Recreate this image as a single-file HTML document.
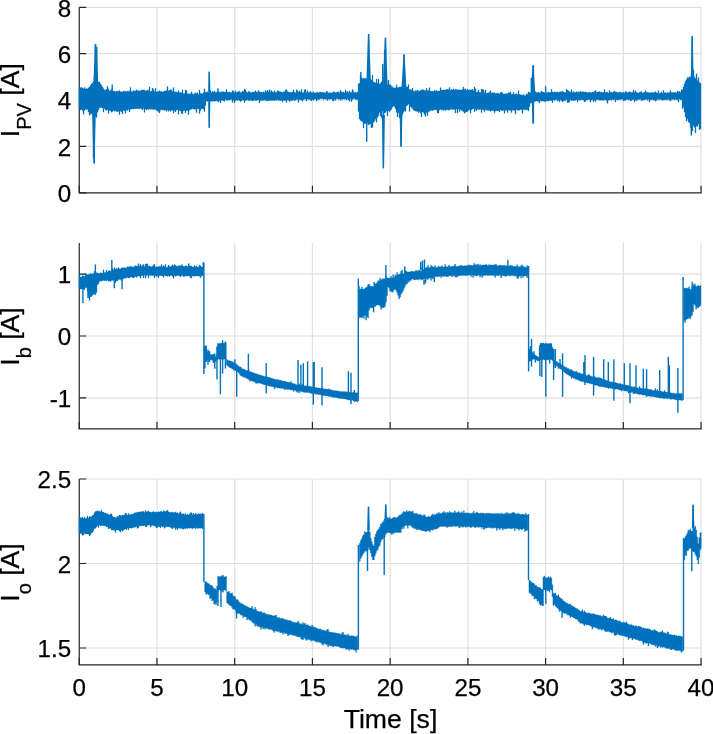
<!DOCTYPE html>
<html><head><meta charset="utf-8"><style>
html,body{margin:0;padding:0;background:#fff;width:713px;height:734px;overflow:hidden}
svg{display:block}
text{filter:opacity(99.9%)}
.t{font-family:"Liberation Sans",sans-serif;font-size:24.2px;fill:#000;stroke:#000;stroke-width:0.25px}
.l{font-family:"Liberation Sans",sans-serif;font-size:26.6px;fill:#000;stroke:#000;stroke-width:0.25px}
</style></head><body>
<svg width="713" height="734" viewBox="0 0 713 734">
<rect width="713" height="734" fill="#fff"/>
<path d="M156.97 7.28V192.80M234.70 7.28V192.80M312.43 7.28V192.80M390.15 7.28V192.80M467.88 7.28V192.80M545.60 7.28V192.80M623.33 7.28V192.80M701.05 7.28V192.80M79.25 146.42H701.65M79.25 100.04H701.65M79.25 53.66H701.65M79.25 7.28H701.65" stroke="#dfdfdf" stroke-width="1.2" fill="none"/>
<path d="M79.25 7.28V193.40M78.65 192.80H701.65" stroke="#262626" stroke-width="1.2" fill="none"/>
<path d="M79.25 192.80v-7M156.97 192.80v-7M234.70 192.80v-7M312.43 192.80v-7M390.15 192.80v-7M467.88 192.80v-7M545.60 192.80v-7M623.33 192.80v-7M701.05 192.80v-7M79.25 192.80h7M79.25 146.42h7M79.25 100.04h7M79.25 53.66h7M79.25 7.28h7" stroke="#262626" stroke-width="1.2" fill="none"/>
<path d="M79.0 87.3 80.0 87.3 80.0 87.6 81.0 87.6 81.0 87.6 82.0 87.6 82.0 88.0 83.0 88.0 83.0 88.7 84.0 88.7 84.0 87.6 85.0 87.6 85.0 88.7 86.0 88.7 86.0 88.7 87.0 88.7 87.0 88.8 88.0 88.8 88.0 87.7 89.0 87.7 89.0 86.9 90.0 86.9 90.0 85.5 91.0 85.5 91.0 84.0 92.0 84.0 92.0 83.3 93.0 83.3 93.0 81.4 94.0 81.4 94.0 77.6 95.0 77.6 95.0 78.4 96.0 78.4 96.0 79.5 97.0 79.5 97.0 81.2 98.0 81.2 98.0 82.1 99.0 82.1 99.0 82.1 100.0 82.1 100.0 83.8 101.0 83.8 101.0 85.2 102.0 85.2 102.0 86.9 103.0 86.9 103.0 88.6 104.0 88.6 104.0 89.9 105.0 89.9 105.0 89.7 106.0 89.7 106.0 89.3 107.0 89.3 107.0 86.2 108.0 86.2 108.0 88.9 109.0 88.9 109.0 91.1 110.0 91.1 110.0 90.6 111.0 90.6 111.0 89.5 112.0 89.5 112.0 91.7 113.0 91.7 113.0 91.1 114.0 91.1 114.0 91.2 115.0 91.2 115.0 91.8 116.0 91.8 116.0 91.1 117.0 91.1 117.0 91.2 118.0 91.2 118.0 91.3 119.0 91.3 119.0 90.6 120.0 90.6 120.0 91.8 121.0 91.8 121.0 91.7 122.0 91.7 122.0 91.7 123.0 91.7 123.0 91.2 124.0 91.2 124.0 91.3 125.0 91.3 125.0 91.1 126.0 91.1 126.0 91.9 127.0 91.9 127.0 91.0 128.0 91.0 128.0 91.4 129.0 91.4 129.0 90.8 130.0 90.8 130.0 87.4 131.0 87.4 131.0 91.4 132.0 91.4 132.0 91.8 133.0 91.8 133.0 90.5 134.0 90.5 134.0 90.9 135.0 90.9 135.0 90.9 136.0 90.9 136.0 89.7 137.0 89.7 137.0 90.8 138.0 90.8 138.0 90.6 139.0 90.6 139.0 90.7 140.0 90.7 140.0 90.9 141.0 90.9 141.0 90.1 142.0 90.1 142.0 89.9 143.0 89.9 143.0 89.9 144.0 89.9 144.0 90.1 145.0 90.1 145.0 91.1 146.0 91.1 146.0 90.7 147.0 90.7 147.0 89.9 148.0 89.9 148.0 90.5 149.0 90.5 149.0 87.0 150.0 87.0 150.0 91.4 151.0 91.4 151.0 91.1 152.0 91.1 152.0 88.1 153.0 88.1 153.0 89.4 154.0 89.4 154.0 91.6 155.0 91.6 155.0 88.4 156.0 88.4 156.0 92.0 157.0 92.0 157.0 91.5 158.0 91.5 158.0 91.8 159.0 91.8 159.0 90.7 160.0 90.7 160.0 91.8 161.0 91.8 161.0 91.2 162.0 91.2 162.0 91.8 163.0 91.8 163.0 91.8 164.0 91.8 164.0 91.0 165.0 91.0 165.0 90.9 166.0 90.9 166.0 90.6 167.0 90.6 167.0 86.5 168.0 86.5 168.0 90.8 169.0 90.8 169.0 90.3 170.0 90.3 170.0 89.8 171.0 89.8 171.0 89.9 172.0 89.9 172.0 91.3 173.0 91.3 173.0 87.6 174.0 87.6 174.0 91.8 175.0 91.8 175.0 91.9 176.0 91.9 176.0 92.0 177.0 92.0 177.0 92.2 178.0 92.2 178.0 90.8 179.0 90.8 179.0 92.5 180.0 92.5 180.0 92.6 181.0 92.6 181.0 92.8 182.0 92.8 182.0 89.9 183.0 89.9 183.0 93.6 184.0 93.6 184.0 93.4 185.0 93.4 185.0 90.1 186.0 90.1 186.0 90.5 187.0 90.5 187.0 93.7 188.0 93.7 188.0 93.6 189.0 93.6 189.0 94.2 190.0 94.2 190.0 93.7 191.0 93.7 191.0 91.9 192.0 91.9 192.0 93.7 193.0 93.7 193.0 94.4 194.0 94.4 194.0 93.6 195.0 93.6 195.0 92.8 196.0 92.8 196.0 93.4 197.0 93.4 197.0 92.8 198.0 92.8 198.0 94.2 199.0 94.2 199.0 90.0 200.0 90.0 200.0 93.2 201.0 93.2 201.0 93.8 202.0 93.8 202.0 93.7 203.0 93.7 203.0 92.6 204.0 92.6 204.0 88.8 205.0 88.8 205.0 92.2 206.0 92.2 206.0 92.2 207.0 92.2 207.0 91.8 208.0 91.8 208.0 92.4 209.0 92.4 209.0 92.0 210.0 92.0 210.0 90.6 211.0 90.6 211.0 92.6 212.0 92.6 212.0 91.6 213.0 91.6 213.0 92.0 214.0 92.0 214.0 91.0 215.0 91.0 215.0 92.6 216.0 92.6 216.0 92.3 217.0 92.3 217.0 91.5 218.0 91.5 218.0 91.9 219.0 91.9 219.0 92.1 220.0 92.1 220.0 92.2 221.0 92.2 221.0 91.7 222.0 91.7 222.0 91.7 223.0 91.7 223.0 91.7 224.0 91.7 224.0 92.0 225.0 92.0 225.0 92.1 226.0 92.1 226.0 89.5 227.0 89.5 227.0 92.0 228.0 92.0 228.0 92.2 229.0 92.2 229.0 92.0 230.0 92.0 230.0 92.5 231.0 92.5 231.0 92.4 232.0 92.4 232.0 90.7 233.0 90.7 233.0 91.3 234.0 91.3 234.0 92.6 235.0 92.6 235.0 90.8 236.0 90.8 236.0 92.5 237.0 92.5 237.0 91.9 238.0 91.9 238.0 91.6 239.0 91.6 239.0 91.3 240.0 91.3 240.0 92.6 241.0 92.6 241.0 92.4 242.0 92.4 242.0 91.1 243.0 91.1 243.0 91.6 244.0 91.6 244.0 89.1 245.0 89.1 245.0 89.9 246.0 89.9 246.0 91.9 247.0 91.9 247.0 92.4 248.0 92.4 248.0 91.6 249.0 91.6 249.0 91.5 250.0 91.5 250.0 92.5 251.0 92.5 251.0 92.4 252.0 92.4 252.0 91.9 253.0 91.9 253.0 92.0 254.0 92.0 254.0 91.9 255.0 91.9 255.0 90.7 256.0 90.7 256.0 92.0 257.0 92.0 257.0 92.3 258.0 92.3 258.0 90.4 259.0 90.4 259.0 91.7 260.0 91.7 260.0 92.2 261.0 92.2 261.0 92.1 262.0 92.1 262.0 92.6 263.0 92.6 263.0 91.7 264.0 91.7 264.0 92.6 265.0 92.6 265.0 90.5 266.0 90.5 266.0 91.7 267.0 91.7 267.0 90.3 268.0 90.3 268.0 91.8 269.0 91.8 269.0 89.7 270.0 89.7 270.0 91.7 271.0 91.7 271.0 90.5 272.0 90.5 272.0 91.9 273.0 91.9 273.0 92.2 274.0 92.2 274.0 90.7 275.0 90.7 275.0 92.5 276.0 92.5 276.0 92.2 277.0 92.2 277.0 90.7 278.0 90.7 278.0 90.9 279.0 90.9 279.0 91.7 280.0 91.7 280.0 91.8 281.0 91.8 281.0 92.1 282.0 92.1 282.0 92.5 283.0 92.5 283.0 91.8 284.0 91.8 284.0 91.8 285.0 91.8 285.0 90.1 286.0 90.1 286.0 91.6 287.0 91.6 287.0 91.7 288.0 91.7 288.0 91.9 289.0 91.9 289.0 92.3 290.0 92.3 290.0 92.2 291.0 92.2 291.0 92.2 292.0 92.2 292.0 92.1 293.0 92.1 293.0 89.9 294.0 89.9 294.0 92.3 295.0 92.3 295.0 92.7 296.0 92.7 296.0 89.8 297.0 89.8 297.0 90.7 298.0 90.7 298.0 91.9 299.0 91.9 299.0 90.9 300.0 90.9 300.0 92.1 301.0 92.1 301.0 89.4 302.0 89.4 302.0 92.8 303.0 92.8 303.0 92.6 304.0 92.6 304.0 89.8 305.0 89.8 305.0 89.6 306.0 89.6 306.0 92.4 307.0 92.4 307.0 90.5 308.0 90.5 308.0 92.6 309.0 92.6 309.0 92.2 310.0 92.2 310.0 91.4 311.0 91.4 311.0 92.5 312.0 92.5 312.0 92.7 313.0 92.7 313.0 91.8 314.0 91.8 314.0 93.1 315.0 93.1 315.0 92.8 316.0 92.8 316.0 92.6 317.0 92.6 317.0 92.2 318.0 92.2 318.0 93.0 319.0 93.0 319.0 92.3 320.0 92.3 320.0 92.1 321.0 92.1 321.0 92.2 322.0 92.2 322.0 92.2 323.0 92.2 323.0 92.5 324.0 92.5 324.0 92.5 325.0 92.5 325.0 92.8 326.0 92.8 326.0 91.3 327.0 91.3 327.0 91.7 328.0 91.7 328.0 93.1 329.0 93.1 329.0 92.4 330.0 92.4 330.0 92.8 331.0 92.8 331.0 92.9 332.0 92.9 332.0 92.8 333.0 92.8 333.0 91.8 334.0 91.8 334.0 92.1 335.0 92.1 335.0 92.7 336.0 92.7 336.0 92.4 337.0 92.4 337.0 92.1 338.0 92.1 338.0 91.8 339.0 91.8 339.0 92.8 340.0 92.8 340.0 90.4 341.0 90.4 341.0 91.8 342.0 91.8 342.0 92.4 343.0 92.4 343.0 91.9 344.0 91.9 344.0 92.8 345.0 92.8 345.0 90.0 346.0 90.0 346.0 92.2 347.0 92.2 347.0 91.3 348.0 91.3 348.0 92.8 349.0 92.8 349.0 91.1 350.0 91.1 350.0 92.6 351.0 92.6 351.0 92.3 352.0 92.3 352.0 89.5 353.0 89.5 353.0 91.2 354.0 91.2 354.0 92.7 355.0 92.7 355.0 92.2 356.0 92.2 356.0 92.6 357.0 92.6 357.0 92.3 358.0 92.3 358.0 83.9 359.0 83.9 359.0 83.1 360.0 83.1 360.0 74.8 361.0 74.8 361.0 77.5 362.0 77.5 362.0 78.8 363.0 78.8 363.0 78.1 364.0 78.1 364.0 78.5 365.0 78.5 365.0 78.3 366.0 78.3 366.0 78.7 367.0 78.7 367.0 79.5 368.0 79.5 368.0 80.1 369.0 80.1 369.0 75.3 370.0 75.3 370.0 78.5 371.0 78.5 371.0 81.2 372.0 81.2 372.0 75.1 373.0 75.1 373.0 81.9 374.0 81.9 374.0 82.3 375.0 82.3 375.0 83.1 376.0 83.1 376.0 79.1 377.0 79.1 377.0 83.0 378.0 83.0 378.0 79.1 379.0 79.1 379.0 84.0 380.0 84.0 380.0 83.2 381.0 83.2 381.0 81.7 382.0 81.7 382.0 84.5 383.0 84.5 383.0 84.8 384.0 84.8 384.0 82.8 385.0 82.8 385.0 84.7 386.0 84.7 386.0 81.0 387.0 81.0 387.0 85.0 388.0 85.0 388.0 80.1 389.0 80.1 389.0 84.9 390.0 84.9 390.0 84.5 391.0 84.5 391.0 86.3 392.0 86.3 392.0 86.8 393.0 86.8 393.0 88.0 394.0 88.0 394.0 87.7 395.0 87.7 395.0 87.9 396.0 87.9 396.0 84.9 397.0 84.9 397.0 87.6 398.0 87.6 398.0 87.4 399.0 87.4 399.0 87.1 400.0 87.1 400.0 86.9 401.0 86.9 401.0 86.8 402.0 86.8 402.0 81.4 403.0 81.4 403.0 83.5 404.0 83.5 404.0 84.5 405.0 84.5 405.0 87.1 406.0 87.1 406.0 86.8 407.0 86.8 407.0 86.9 408.0 86.9 408.0 84.6 409.0 84.6 409.0 89.5 410.0 89.5 410.0 89.6 411.0 89.6 411.0 90.1 412.0 90.1 412.0 88.1 413.0 88.1 413.0 90.9 414.0 90.9 414.0 91.8 415.0 91.8 415.0 90.6 416.0 90.6 416.0 91.0 417.0 91.0 417.0 90.1 418.0 90.1 418.0 91.0 419.0 91.0 419.0 90.9 420.0 90.9 420.0 90.6 421.0 90.6 421.0 90.0 422.0 90.0 422.0 89.7 423.0 89.7 423.0 89.7 424.0 89.7 424.0 90.5 425.0 90.5 425.0 90.6 426.0 90.6 426.0 88.3 427.0 88.3 427.0 90.2 428.0 90.2 428.0 90.7 429.0 90.7 429.0 87.7 430.0 87.7 430.0 91.1 431.0 91.1 431.0 91.4 432.0 91.4 432.0 91.0 433.0 91.0 433.0 91.7 434.0 91.7 434.0 90.2 435.0 90.2 435.0 91.0 436.0 91.0 436.0 90.5 437.0 90.5 437.0 91.0 438.0 91.0 438.0 91.1 439.0 91.1 439.0 91.0 440.0 91.0 440.0 87.7 441.0 87.7 441.0 90.1 442.0 90.1 442.0 90.0 443.0 90.0 443.0 90.1 444.0 90.1 444.0 89.8 445.0 89.8 445.0 89.9 446.0 89.9 446.0 89.4 447.0 89.4 447.0 89.3 448.0 89.3 448.0 89.6 449.0 89.6 449.0 87.6 450.0 87.6 450.0 90.2 451.0 90.2 451.0 89.5 452.0 89.5 452.0 90.0 453.0 90.0 453.0 89.1 454.0 89.1 454.0 90.1 455.0 90.1 455.0 89.3 456.0 89.3 456.0 89.5 457.0 89.5 457.0 89.9 458.0 89.9 458.0 89.4 459.0 89.4 459.0 90.1 460.0 90.1 460.0 90.0 461.0 90.0 461.0 90.1 462.0 90.1 462.0 89.3 463.0 89.3 463.0 87.0 464.0 87.0 464.0 89.6 465.0 89.6 465.0 88.8 466.0 88.8 466.0 90.3 467.0 90.3 467.0 89.3 468.0 89.3 468.0 90.1 469.0 90.1 469.0 89.8 470.0 89.8 470.0 90.1 471.0 90.1 471.0 89.7 472.0 89.7 472.0 89.2 473.0 89.2 473.0 90.7 474.0 90.7 474.0 87.1 475.0 87.1 475.0 88.8 476.0 88.8 476.0 92.0 477.0 92.0 477.0 92.0 478.0 92.0 478.0 89.9 479.0 89.9 479.0 92.3 480.0 92.3 480.0 92.5 481.0 92.5 481.0 89.3 482.0 89.3 482.0 89.2 483.0 89.2 483.0 89.7 484.0 89.7 484.0 92.4 485.0 92.4 485.0 90.0 486.0 90.0 486.0 93.2 487.0 93.2 487.0 93.1 488.0 93.1 488.0 92.9 489.0 92.9 489.0 91.9 490.0 91.9 490.0 90.7 491.0 90.7 491.0 93.2 492.0 93.2 492.0 92.7 493.0 92.7 493.0 92.7 494.0 92.7 494.0 92.8 495.0 92.8 495.0 93.5 496.0 93.5 496.0 93.2 497.0 93.2 497.0 93.3 498.0 93.3 498.0 93.2 499.0 93.2 499.0 93.9 500.0 93.9 500.0 92.6 501.0 92.6 501.0 92.0 502.0 92.0 502.0 93.1 503.0 93.1 503.0 94.1 504.0 94.1 504.0 94.1 505.0 94.1 505.0 93.6 506.0 93.6 506.0 93.6 507.0 93.6 507.0 93.7 508.0 93.7 508.0 92.8 509.0 92.8 509.0 92.7 510.0 92.7 510.0 91.9 511.0 91.9 511.0 94.2 512.0 94.2 512.0 94.1 513.0 94.1 513.0 92.2 514.0 92.2 514.0 94.4 515.0 94.4 515.0 94.1 516.0 94.1 516.0 93.8 517.0 93.8 517.0 94.4 518.0 94.4 518.0 90.7 519.0 90.7 519.0 94.3 520.0 94.3 520.0 94.8 521.0 94.8 521.0 95.0 522.0 95.0 522.0 95.2 523.0 95.2 523.0 94.4 524.0 94.4 524.0 95.5 525.0 95.5 525.0 95.5 526.0 95.5 526.0 93.8 527.0 93.8 527.0 94.3 528.0 94.3 528.0 91.9 529.0 91.9 529.0 92.5 530.0 92.5 530.0 92.7 531.0 92.7 531.0 91.4 532.0 91.4 532.0 92.8 533.0 92.8 533.0 92.4 534.0 92.4 534.0 92.3 535.0 92.3 535.0 91.7 536.0 91.7 536.0 92.5 537.0 92.5 537.0 92.4 538.0 92.4 538.0 92.2 539.0 92.2 539.0 92.8 540.0 92.8 540.0 92.5 541.0 92.5 541.0 91.0 542.0 91.0 542.0 92.0 543.0 92.0 543.0 92.1 544.0 92.1 544.0 92.6 545.0 92.6 545.0 92.6 546.0 92.6 546.0 92.3 547.0 92.3 547.0 92.7 548.0 92.7 548.0 92.0 549.0 92.0 549.0 92.5 550.0 92.5 550.0 92.4 551.0 92.4 551.0 89.4 552.0 89.4 552.0 92.0 553.0 92.0 553.0 92.2 554.0 92.2 554.0 91.9 555.0 91.9 555.0 91.9 556.0 91.9 556.0 92.2 557.0 92.2 557.0 91.9 558.0 91.9 558.0 92.5 559.0 92.5 559.0 92.0 560.0 92.0 560.0 91.7 561.0 91.7 561.0 91.7 562.0 91.7 562.0 91.3 563.0 91.3 563.0 92.0 564.0 92.0 564.0 92.5 565.0 92.5 565.0 92.5 566.0 92.5 566.0 89.4 567.0 89.4 567.0 90.1 568.0 90.1 568.0 90.8 569.0 90.8 569.0 91.8 570.0 91.8 570.0 92.1 571.0 92.1 571.0 89.8 572.0 89.8 572.0 92.4 573.0 92.4 573.0 91.5 574.0 91.5 574.0 92.4 575.0 92.4 575.0 92.5 576.0 92.5 576.0 91.8 577.0 91.8 577.0 92.2 578.0 92.2 578.0 91.7 579.0 91.7 579.0 92.2 580.0 92.2 580.0 91.3 581.0 91.3 581.0 91.9 582.0 91.9 582.0 92.0 583.0 92.0 583.0 91.8 584.0 91.8 584.0 92.0 585.0 92.0 585.0 92.0 586.0 92.0 586.0 92.2 587.0 92.2 587.0 92.7 588.0 92.7 588.0 92.5 589.0 92.5 589.0 91.9 590.0 91.9 590.0 92.7 591.0 92.7 591.0 92.6 592.0 92.6 592.0 92.1 593.0 92.1 593.0 92.2 594.0 92.2 594.0 91.3 595.0 91.3 595.0 90.4 596.0 90.4 596.0 92.2 597.0 92.2 597.0 92.0 598.0 92.0 598.0 91.9 599.0 91.9 599.0 91.6 600.0 91.6 600.0 92.3 601.0 92.3 601.0 91.9 602.0 91.9 602.0 92.6 603.0 92.6 603.0 92.5 604.0 92.5 604.0 89.6 605.0 89.6 605.0 92.5 606.0 92.5 606.0 92.1 607.0 92.1 607.0 92.2 608.0 92.2 608.0 92.9 609.0 92.9 609.0 90.5 610.0 90.5 610.0 92.3 611.0 92.3 611.0 92.2 612.0 92.2 612.0 92.8 613.0 92.8 613.0 91.7 614.0 91.7 614.0 91.0 615.0 91.0 615.0 92.1 616.0 92.1 616.0 92.0 617.0 92.0 617.0 92.4 618.0 92.4 618.0 92.4 619.0 92.4 619.0 92.1 620.0 92.1 620.0 92.2 621.0 92.2 621.0 92.5 622.0 92.5 622.0 93.0 623.0 93.0 623.0 92.1 624.0 92.1 624.0 93.0 625.0 93.0 625.0 91.2 626.0 91.2 626.0 92.1 627.0 92.1 627.0 92.5 628.0 92.5 628.0 92.2 629.0 92.2 629.0 91.8 630.0 91.8 630.0 92.3 631.0 92.3 631.0 92.2 632.0 92.2 632.0 92.2 633.0 92.2 633.0 90.0 634.0 90.0 634.0 92.2 635.0 92.2 635.0 90.7 636.0 90.7 636.0 92.5 637.0 92.5 637.0 92.8 638.0 92.8 638.0 93.0 639.0 93.0 639.0 92.3 640.0 92.3 640.0 91.9 641.0 91.9 641.0 91.6 642.0 91.6 642.0 92.9 643.0 92.9 643.0 92.4 644.0 92.4 644.0 92.3 645.0 92.3 645.0 90.6 646.0 90.6 646.0 92.3 647.0 92.3 647.0 92.2 648.0 92.2 648.0 92.6 649.0 92.6 649.0 92.9 650.0 92.9 650.0 92.6 651.0 92.6 651.0 92.4 652.0 92.4 652.0 92.6 653.0 92.6 653.0 92.6 654.0 92.6 654.0 92.2 655.0 92.2 655.0 91.7 656.0 91.7 656.0 92.8 657.0 92.8 657.0 93.0 658.0 93.0 658.0 90.8 659.0 90.8 659.0 93.2 660.0 93.2 660.0 93.0 661.0 93.0 661.0 92.0 662.0 92.0 662.0 93.3 663.0 93.3 663.0 90.3 664.0 90.3 664.0 92.7 665.0 92.7 665.0 92.6 666.0 92.6 666.0 93.2 667.0 93.2 667.0 92.4 668.0 92.4 668.0 92.7 669.0 92.7 669.0 92.4 670.0 92.4 670.0 90.6 671.0 90.6 671.0 92.5 672.0 92.5 672.0 92.5 673.0 92.5 673.0 92.4 674.0 92.4 674.0 92.5 675.0 92.5 675.0 92.2 676.0 92.2 676.0 93.0 677.0 93.0 677.0 90.9 678.0 90.9 678.0 91.8 679.0 91.8 679.0 91.4 680.0 91.4 680.0 92.3 681.0 92.3 681.0 89.4 682.0 89.4 682.0 90.1 683.0 90.1 683.0 86.8 684.0 86.8 684.0 83.8 685.0 83.8 685.0 81.3 686.0 81.3 686.0 79.5 687.0 79.5 687.0 77.6 688.0 77.6 688.0 77.7 689.0 77.7 689.0 76.8 690.0 76.8 690.0 77.1 691.0 77.1 691.0 74.7 692.0 74.7 692.0 71.8 693.0 71.8 693.0 69.8 694.0 69.8 694.0 76.7 695.0 76.7 695.0 78.6 696.0 78.6 696.0 73.8 697.0 73.8 697.0 80.6 698.0 80.6 698.0 77.5 699.0 77.5 699.0 82.6 700.0 82.6 700.0 83.3 701.0 83.3 701.0 83.9 701.0 83.9 701.0 122.2 701.0 122.2 701.0 128.7 700.0 128.7 700.0 129.8 699.0 129.8 699.0 124.1 698.0 124.1 698.0 126.6 697.0 126.6 697.0 125.9 696.0 125.9 696.0 132.9 695.0 132.9 695.0 127.2 694.0 127.2 694.0 125.8 693.0 125.8 693.0 131.1 692.0 131.1 692.0 124.2 691.0 124.2 691.0 127.6 690.0 127.6 690.0 122.7 689.0 122.7 689.0 122.0 688.0 122.0 688.0 119.0 687.0 119.0 687.0 121.0 686.0 121.0 686.0 117.1 685.0 117.1 685.0 112.1 684.0 112.1 684.0 107.3 683.0 107.3 683.0 108.6 682.0 108.6 682.0 99.5 681.0 99.5 681.0 100.0 680.0 100.0 680.0 99.1 679.0 99.1 679.0 102.0 678.0 102.0 678.0 99.7 677.0 99.7 677.0 99.7 676.0 99.7 676.0 99.2 675.0 99.2 675.0 99.9 674.0 99.9 674.0 99.3 673.0 99.3 673.0 99.4 672.0 99.4 672.0 99.5 671.0 99.5 671.0 100.9 670.0 100.9 670.0 100.2 669.0 100.2 669.0 99.3 668.0 99.3 668.0 99.9 667.0 99.9 667.0 99.8 666.0 99.8 666.0 99.8 665.0 99.8 665.0 99.9 664.0 99.9 664.0 100.0 663.0 100.0 663.0 100.2 662.0 100.2 662.0 99.7 661.0 99.7 661.0 99.6 660.0 99.6 660.0 99.4 659.0 99.4 659.0 99.7 658.0 99.7 658.0 99.2 657.0 99.2 657.0 100.5 656.0 100.5 656.0 101.2 655.0 101.2 655.0 100.1 654.0 100.1 654.0 100.1 653.0 100.1 653.0 99.6 652.0 99.6 652.0 99.7 651.0 99.7 651.0 100.0 650.0 100.0 650.0 101.9 649.0 101.9 649.0 99.3 648.0 99.3 648.0 100.3 647.0 100.3 647.0 99.2 646.0 99.2 646.0 99.5 645.0 99.5 645.0 100.0 644.0 100.0 644.0 99.9 643.0 99.9 643.0 100.0 642.0 100.0 642.0 100.7 641.0 100.7 641.0 99.3 640.0 99.3 640.0 99.4 639.0 99.4 639.0 99.5 638.0 99.5 638.0 99.7 637.0 99.7 637.0 100.8 636.0 100.8 636.0 99.9 635.0 99.9 635.0 101.9 634.0 101.9 634.0 99.4 633.0 99.4 633.0 99.7 632.0 99.7 632.0 100.6 631.0 100.6 631.0 101.0 630.0 101.0 630.0 99.3 629.0 99.3 629.0 100.0 628.0 100.0 628.0 99.6 627.0 99.6 627.0 99.5 626.0 99.5 626.0 100.1 625.0 100.1 625.0 100.5 624.0 100.5 624.0 100.9 623.0 100.9 623.0 99.2 622.0 99.2 622.0 99.2 621.0 99.2 621.0 99.8 620.0 99.8 620.0 99.3 619.0 99.3 619.0 99.9 618.0 99.9 618.0 99.9 617.0 99.9 617.0 99.4 616.0 99.4 616.0 102.0 615.0 102.0 615.0 99.5 614.0 99.5 614.0 99.7 613.0 99.7 613.0 99.5 612.0 99.5 612.0 100.2 611.0 100.2 611.0 99.7 610.0 99.7 610.0 99.9 609.0 99.9 609.0 100.1 608.0 100.1 608.0 100.1 607.0 100.1 607.0 100.3 606.0 100.3 606.0 100.0 605.0 100.0 605.0 99.8 604.0 99.8 604.0 100.2 603.0 100.2 603.0 100.2 602.0 100.2 602.0 100.1 601.0 100.1 601.0 100.2 600.0 100.2 600.0 100.3 599.0 100.3 599.0 99.5 598.0 99.5 598.0 99.7 597.0 99.7 597.0 99.5 596.0 99.5 596.0 101.4 595.0 101.4 595.0 100.1 594.0 100.1 594.0 101.9 593.0 101.9 593.0 99.8 592.0 99.8 592.0 100.1 591.0 100.1 591.0 102.0 590.0 102.0 590.0 99.7 589.0 99.7 589.0 99.6 588.0 99.6 588.0 100.0 587.0 100.0 587.0 100.0 586.0 100.0 586.0 101.2 585.0 101.2 585.0 101.9 584.0 101.9 584.0 99.9 583.0 99.9 583.0 100.0 582.0 100.0 582.0 99.6 581.0 99.6 581.0 100.1 580.0 100.1 580.0 100.3 579.0 100.3 579.0 99.8 578.0 99.8 578.0 102.1 577.0 102.1 577.0 99.8 576.0 99.8 576.0 100.3 575.0 100.3 575.0 100.2 574.0 100.2 574.0 100.6 573.0 100.6 573.0 100.4 572.0 100.4 572.0 100.4 571.0 100.4 571.0 99.8 570.0 99.8 570.0 102.0 569.0 102.0 569.0 102.5 568.0 102.5 568.0 102.5 567.0 102.5 567.0 99.6 566.0 99.6 566.0 100.4 565.0 100.4 565.0 100.4 564.0 100.4 564.0 101.0 563.0 101.0 563.0 102.0 562.0 102.0 562.0 100.4 561.0 100.4 561.0 100.0 560.0 100.0 560.0 101.7 559.0 101.7 559.0 100.6 558.0 100.6 558.0 100.9 557.0 100.9 557.0 99.6 556.0 99.6 556.0 99.7 555.0 99.7 555.0 100.6 554.0 100.6 554.0 99.7 553.0 99.7 553.0 102.7 552.0 102.7 552.0 100.5 551.0 100.5 551.0 100.5 550.0 100.5 550.0 100.6 549.0 100.6 549.0 100.9 548.0 100.9 548.0 100.9 547.0 100.9 547.0 100.8 546.0 100.8 546.0 101.7 545.0 101.7 545.0 101.6 544.0 101.6 544.0 101.2 543.0 101.2 543.0 101.1 542.0 101.1 542.0 101.2 541.0 101.2 541.0 100.6 540.0 100.6 540.0 103.0 539.0 103.0 539.0 101.7 538.0 101.7 538.0 101.1 537.0 101.1 537.0 101.0 536.0 101.0 536.0 101.3 535.0 101.3 535.0 101.5 534.0 101.5 534.0 101.8 533.0 101.8 533.0 101.8 532.0 101.8 532.0 102.8 531.0 102.8 531.0 103.3 530.0 103.3 530.0 106.8 529.0 106.8 529.0 111.1 528.0 111.1 528.0 109.8 527.0 109.8 527.0 109.7 526.0 109.7 526.0 109.8 525.0 109.8 525.0 109.8 524.0 109.8 524.0 109.6 523.0 109.6 523.0 113.2 522.0 113.2 522.0 109.7 521.0 109.7 521.0 109.6 520.0 109.6 520.0 110.1 519.0 110.1 519.0 110.3 518.0 110.3 518.0 110.3 517.0 110.3 517.0 109.6 516.0 109.6 516.0 114.1 515.0 114.1 515.0 110.4 514.0 110.4 514.0 110.2 513.0 110.2 513.0 109.9 512.0 109.9 512.0 112.6 511.0 112.6 511.0 110.3 510.0 110.3 510.0 110.5 509.0 110.5 509.0 110.1 508.0 110.1 508.0 112.5 507.0 112.5 507.0 110.2 506.0 110.2 506.0 110.2 505.0 110.2 505.0 113.3 504.0 113.3 504.0 110.2 503.0 110.2 503.0 110.8 502.0 110.8 502.0 110.4 501.0 110.4 501.0 110.1 500.0 110.1 500.0 112.0 499.0 112.0 499.0 110.7 498.0 110.7 498.0 111.0 497.0 111.0 497.0 110.8 496.0 110.8 496.0 111.1 495.0 111.1 495.0 112.7 494.0 112.7 494.0 110.7 493.0 110.7 493.0 110.7 492.0 110.7 492.0 110.4 491.0 110.4 491.0 111.2 490.0 111.2 490.0 110.6 489.0 110.6 489.0 110.2 488.0 110.2 488.0 110.5 487.0 110.5 487.0 110.1 486.0 110.1 486.0 109.8 485.0 109.8 485.0 111.7 484.0 111.7 484.0 109.9 483.0 109.9 483.0 109.5 482.0 109.5 482.0 112.6 481.0 112.6 481.0 109.2 480.0 109.2 480.0 109.5 479.0 109.5 479.0 109.5 478.0 109.5 478.0 109.3 477.0 109.3 477.0 111.0 476.0 111.0 476.0 109.2 475.0 109.2 475.0 111.8 474.0 111.8 474.0 108.4 473.0 108.4 473.0 109.0 472.0 109.0 472.0 110.0 471.0 110.0 471.0 113.2 470.0 113.2 470.0 109.6 469.0 109.6 469.0 110.5 468.0 110.5 468.0 111.4 467.0 111.4 467.0 112.0 466.0 112.0 466.0 112.3 465.0 112.3 465.0 113.2 464.0 113.2 464.0 111.8 463.0 111.8 463.0 110.8 462.0 110.8 462.0 110.5 461.0 110.5 461.0 109.2 460.0 109.2 460.0 111.5 459.0 111.5 459.0 109.1 458.0 109.1 458.0 113.1 457.0 113.1 457.0 108.9 456.0 108.9 456.0 113.0 455.0 113.0 455.0 109.2 454.0 109.2 454.0 109.6 453.0 109.6 453.0 109.4 452.0 109.4 452.0 109.2 451.0 109.2 451.0 109.2 450.0 109.2 450.0 109.9 449.0 109.9 449.0 110.2 448.0 110.2 448.0 109.8 447.0 109.8 447.0 109.7 446.0 109.7 446.0 110.6 445.0 110.6 445.0 109.8 444.0 109.8 444.0 110.3 443.0 110.3 443.0 110.1 442.0 110.1 442.0 109.8 441.0 109.8 441.0 109.6 440.0 109.6 440.0 110.1 439.0 110.1 439.0 113.0 438.0 113.0 438.0 112.9 437.0 112.9 437.0 110.1 436.0 110.1 436.0 109.7 435.0 109.7 435.0 109.8 434.0 109.8 434.0 110.1 433.0 110.1 433.0 110.7 432.0 110.7 432.0 110.1 431.0 110.1 431.0 110.7 430.0 110.7 430.0 111.0 429.0 111.0 429.0 111.9 428.0 111.9 428.0 115.5 427.0 115.5 427.0 112.6 426.0 112.6 426.0 116.5 425.0 116.5 425.0 114.6 424.0 114.6 424.0 112.4 423.0 112.4 423.0 112.1 422.0 112.1 422.0 116.9 421.0 116.9 421.0 113.0 420.0 113.0 420.0 111.4 419.0 111.4 419.0 112.5 418.0 112.5 418.0 111.4 417.0 111.4 417.0 111.3 416.0 111.3 416.0 110.9 415.0 110.9 415.0 110.6 414.0 110.6 414.0 110.1 413.0 110.1 413.0 108.5 412.0 108.5 412.0 107.5 411.0 107.5 411.0 106.4 410.0 106.4 410.0 111.6 409.0 111.6 409.0 104.0 408.0 104.0 408.0 105.3 407.0 105.3 407.0 106.0 406.0 106.0 406.0 111.3 405.0 111.3 405.0 110.8 404.0 110.8 404.0 112.4 403.0 112.4 403.0 114.6 402.0 114.6 402.0 114.9 401.0 114.9 401.0 114.8 400.0 114.8 400.0 118.0 399.0 118.0 399.0 112.7 398.0 112.7 398.0 116.8 397.0 116.8 397.0 112.3 396.0 112.3 396.0 108.7 395.0 108.7 395.0 106.7 394.0 106.7 394.0 105.9 393.0 105.9 393.0 107.2 392.0 107.2 392.0 109.2 391.0 109.2 391.0 110.6 390.0 110.6 390.0 111.5 389.0 111.5 389.0 110.7 388.0 110.7 388.0 116.1 387.0 116.1 387.0 111.0 386.0 111.0 386.0 112.6 385.0 112.6 385.0 112.9 384.0 112.9 384.0 116.8 383.0 116.8 383.0 110.9 382.0 110.9 382.0 117.8 381.0 117.8 381.0 115.8 380.0 115.8 380.0 112.4 379.0 112.4 379.0 115.7 378.0 115.7 378.0 117.6 377.0 117.6 377.0 122.2 376.0 122.2 376.0 119.3 375.0 119.3 375.0 121.0 374.0 121.0 374.0 122.5 373.0 122.5 373.0 127.2 372.0 127.2 372.0 127.7 371.0 127.7 371.0 124.1 370.0 124.1 370.0 124.1 369.0 124.1 369.0 125.0 368.0 125.0 368.0 123.2 367.0 123.2 367.0 124.5 366.0 124.5 366.0 123.5 365.0 123.5 365.0 123.8 364.0 123.8 364.0 128.1 363.0 128.1 363.0 121.9 362.0 121.9 362.0 121.1 361.0 121.1 361.0 120.4 360.0 120.4 360.0 118.9 359.0 118.9 359.0 111.6 358.0 111.6 358.0 99.7 357.0 99.7 357.0 99.4 356.0 99.4 356.0 99.4 355.0 99.4 355.0 98.8 354.0 98.8 354.0 98.7 353.0 98.7 353.0 99.4 352.0 99.4 352.0 101.6 351.0 101.6 351.0 98.8 350.0 98.8 350.0 101.2 349.0 101.2 349.0 99.9 348.0 99.9 348.0 98.8 347.0 98.8 347.0 100.0 346.0 100.0 346.0 99.0 345.0 99.0 345.0 99.3 344.0 99.3 344.0 99.0 343.0 99.0 343.0 99.3 342.0 99.3 342.0 99.6 341.0 99.6 341.0 100.3 340.0 100.3 340.0 99.0 339.0 99.0 339.0 99.4 338.0 99.4 338.0 98.7 337.0 98.7 337.0 98.8 336.0 98.8 336.0 100.3 335.0 100.3 335.0 99.5 334.0 99.5 334.0 101.2 333.0 101.2 333.0 100.6 332.0 100.6 332.0 98.9 331.0 98.9 331.0 98.9 330.0 98.9 330.0 99.4 329.0 99.4 329.0 98.9 328.0 98.9 328.0 100.6 327.0 100.6 327.0 99.1 326.0 99.1 326.0 99.3 325.0 99.3 325.0 98.9 324.0 98.9 324.0 99.5 323.0 99.5 323.0 98.8 322.0 98.8 322.0 98.7 321.0 98.7 321.0 98.8 320.0 98.8 320.0 99.4 319.0 99.4 319.0 99.6 318.0 99.6 318.0 99.4 317.0 99.4 317.0 101.1 316.0 101.1 316.0 99.0 315.0 99.0 315.0 99.2 314.0 99.2 314.0 100.3 313.0 100.3 313.0 99.5 312.0 99.5 312.0 101.1 311.0 101.1 311.0 100.0 310.0 100.0 310.0 99.2 309.0 99.2 309.0 99.5 308.0 99.5 308.0 99.1 307.0 99.1 307.0 101.1 306.0 101.1 306.0 99.2 305.0 99.2 305.0 99.1 304.0 99.1 304.0 99.7 303.0 99.7 303.0 101.2 302.0 101.2 302.0 100.0 301.0 100.0 301.0 99.9 300.0 99.9 300.0 99.4 299.0 99.4 299.0 102.3 298.0 102.3 298.0 99.4 297.0 99.4 297.0 99.5 296.0 99.5 296.0 100.2 295.0 100.2 295.0 100.4 294.0 100.4 294.0 99.8 293.0 99.8 293.0 100.4 292.0 100.4 292.0 100.8 291.0 100.8 291.0 100.3 290.0 100.3 290.0 101.7 289.0 101.7 289.0 100.2 288.0 100.2 288.0 100.1 287.0 100.1 287.0 102.4 286.0 102.4 286.0 100.6 285.0 100.6 285.0 100.5 284.0 100.5 284.0 100.3 283.0 100.3 283.0 102.1 282.0 102.1 282.0 100.6 281.0 100.6 281.0 100.6 280.0 100.6 280.0 100.2 279.0 100.2 279.0 100.6 278.0 100.6 278.0 99.8 277.0 99.8 277.0 100.2 276.0 100.2 276.0 100.3 275.0 100.3 275.0 100.6 274.0 100.6 274.0 100.3 273.0 100.3 273.0 100.4 272.0 100.4 272.0 100.6 271.0 100.6 271.0 100.6 270.0 100.6 270.0 100.4 269.0 100.4 269.0 100.7 268.0 100.7 268.0 100.5 267.0 100.5 267.0 101.0 266.0 101.0 266.0 100.3 265.0 100.3 265.0 100.1 264.0 100.1 264.0 100.3 263.0 100.3 263.0 100.6 262.0 100.6 262.0 100.5 261.0 100.5 261.0 100.4 260.0 100.4 260.0 102.9 259.0 102.9 259.0 99.9 258.0 99.9 258.0 100.0 257.0 100.0 257.0 100.5 256.0 100.5 256.0 100.6 255.0 100.6 255.0 99.7 254.0 99.7 254.0 100.5 253.0 100.5 253.0 100.9 252.0 100.9 252.0 99.9 251.0 99.9 251.0 100.5 250.0 100.5 250.0 100.3 249.0 100.3 249.0 100.5 248.0 100.5 248.0 99.8 247.0 99.8 247.0 100.3 246.0 100.3 246.0 100.4 245.0 100.4 245.0 102.6 244.0 102.6 244.0 100.3 243.0 100.3 243.0 99.8 242.0 99.8 242.0 101.0 241.0 101.0 241.0 101.4 240.0 101.4 240.0 100.5 239.0 100.5 239.0 100.0 238.0 100.0 238.0 100.5 237.0 100.5 237.0 100.0 236.0 100.0 236.0 100.6 235.0 100.6 235.0 103.0 234.0 103.0 234.0 100.0 233.0 100.0 233.0 102.3 232.0 102.3 232.0 99.5 231.0 99.5 231.0 99.7 230.0 99.7 230.0 100.0 229.0 100.0 229.0 99.9 228.0 99.9 228.0 100.3 227.0 100.3 227.0 100.2 226.0 100.2 226.0 99.6 225.0 99.6 225.0 101.2 224.0 101.2 224.0 100.8 223.0 100.8 223.0 100.8 222.0 100.8 222.0 100.3 221.0 100.3 221.0 102.9 220.0 102.9 220.0 100.5 219.0 100.5 219.0 101.9 218.0 101.9 218.0 101.2 217.0 101.2 217.0 100.7 216.0 100.7 216.0 101.1 215.0 101.1 215.0 101.3 214.0 101.3 214.0 101.1 213.0 101.1 213.0 101.3 212.0 101.3 212.0 101.2 211.0 101.2 211.0 101.4 210.0 101.4 210.0 101.5 209.0 101.5 209.0 101.4 208.0 101.4 208.0 101.4 207.0 101.4 207.0 100.9 206.0 100.9 206.0 105.6 205.0 105.6 205.0 111.5 204.0 111.5 204.0 109.2 203.0 109.2 203.0 108.8 202.0 108.8 202.0 108.8 201.0 108.8 201.0 110.6 200.0 110.6 200.0 113.5 199.0 113.5 199.0 109.0 198.0 109.0 198.0 108.6 197.0 108.6 197.0 112.6 196.0 112.6 196.0 109.3 195.0 109.3 195.0 109.3 194.0 109.3 194.0 109.1 193.0 109.1 193.0 108.7 192.0 108.7 192.0 109.2 191.0 109.2 191.0 109.5 190.0 109.5 190.0 110.2 189.0 110.2 189.0 114.4 188.0 114.4 188.0 110.3 187.0 110.3 187.0 110.7 186.0 110.7 186.0 112.9 185.0 112.9 185.0 110.4 184.0 110.4 184.0 110.8 183.0 110.8 183.0 114.0 182.0 114.0 182.0 113.4 181.0 113.4 181.0 111.1 180.0 111.1 180.0 110.4 179.0 110.4 179.0 114.3 178.0 114.3 178.0 110.0 177.0 110.0 177.0 110.0 176.0 110.0 176.0 111.9 175.0 111.9 175.0 110.7 174.0 110.7 174.0 113.0 173.0 113.0 173.0 109.9 172.0 109.9 172.0 110.5 171.0 110.5 171.0 111.3 170.0 111.3 170.0 110.1 169.0 110.1 169.0 111.3 168.0 111.3 168.0 110.0 167.0 110.0 167.0 111.3 166.0 111.3 166.0 110.1 165.0 110.1 165.0 110.4 164.0 110.4 164.0 110.1 163.0 110.1 163.0 110.0 162.0 110.0 162.0 109.6 161.0 109.6 161.0 110.2 160.0 110.2 160.0 112.9 159.0 112.9 159.0 111.8 158.0 111.8 158.0 110.8 157.0 110.8 157.0 110.3 156.0 110.3 156.0 109.5 155.0 109.5 155.0 109.2 154.0 109.2 154.0 109.7 153.0 109.7 153.0 109.2 152.0 109.2 152.0 109.2 151.0 109.2 151.0 109.2 150.0 109.2 150.0 108.8 149.0 108.8 149.0 109.8 148.0 109.8 148.0 109.0 147.0 109.0 147.0 109.7 146.0 109.7 146.0 109.1 145.0 109.1 145.0 112.2 144.0 112.2 144.0 108.6 143.0 108.6 143.0 110.0 142.0 110.0 142.0 108.7 141.0 108.7 141.0 108.6 140.0 108.6 140.0 108.8 139.0 108.8 139.0 108.7 138.0 108.7 138.0 108.7 137.0 108.7 137.0 108.7 136.0 108.7 136.0 108.8 135.0 108.8 135.0 108.8 134.0 108.8 134.0 108.9 133.0 108.9 133.0 108.9 132.0 108.9 132.0 109.0 131.0 109.0 131.0 109.4 130.0 109.4 130.0 111.9 129.0 111.9 129.0 109.3 128.0 109.3 128.0 110.5 127.0 110.5 127.0 110.1 126.0 110.1 126.0 113.3 125.0 113.3 125.0 110.7 124.0 110.7 124.0 110.6 123.0 110.6 123.0 114.0 122.0 114.0 122.0 111.8 121.0 111.8 121.0 111.2 120.0 111.2 120.0 114.4 119.0 114.4 119.0 111.2 118.0 111.2 118.0 111.7 117.0 111.7 117.0 111.6 116.0 111.6 116.0 110.8 115.0 110.8 115.0 111.2 114.0 111.2 114.0 110.5 113.0 110.5 113.0 111.4 112.0 111.4 112.0 112.2 111.0 112.2 111.0 110.7 110.0 110.7 110.0 110.4 109.0 110.4 109.0 113.4 108.0 113.4 108.0 109.7 107.0 109.7 107.0 110.2 106.0 110.2 106.0 109.9 105.0 109.9 105.0 108.5 104.0 108.5 104.0 112.1 103.0 112.1 103.0 108.0 102.0 108.0 102.0 107.5 101.0 107.5 101.0 107.4 100.0 107.4 100.0 108.0 99.0 108.0 99.0 110.0 98.0 110.0 98.0 112.3 97.0 112.3 97.0 117.4 96.0 117.4 96.0 116.5 95.0 116.5 95.0 116.5 94.0 116.5 94.0 116.5 93.0 116.5 93.0 115.3 92.0 115.3 92.0 113.6 91.0 113.6 91.0 114.2 90.0 114.2 90.0 115.2 89.0 115.2 89.0 112.1 88.0 112.1 88.0 109.5 87.0 109.5 87.0 109.5 86.0 109.5 86.0 109.5 85.0 109.5 85.0 110.4 84.0 110.4 84.0 114.2 83.0 114.2 83.0 110.4 82.0 110.4 82.0 109.5 81.0 109.5 81.0 109.9 80.0 109.9 80.0 109.2 79.0 109.2Z" fill="#0072bd" stroke="#0072bd" stroke-width="0.3"/><path d="M93.3 85.0L95.2 44.3L96.4 44.3L98.3 85.0ZM92.2 112.0L93.4 163.6L94.6 163.6L95.8 112.0ZM366.1 90.0L368.0 33.9L369.2 33.9L371.1 90.0ZM382.8 90.0L384.7 37.8L385.9 37.8L387.8 90.0ZM381.9 115.0L382.8 168.2L384.0 168.2L384.9 115.0ZM401.5 90.0L403.4 54.5L404.6 54.5L406.5 90.0ZM399.5 110.0L400.4 146.6L401.6 146.6L402.5 110.0ZM690.7 85.0L691.6 36.2L692.8 36.2L693.7 85.0ZM530.8 93.0L532.4 65.3L533.6 65.3L535.2 93.0ZM531.8 100.0L532.4 123.5L533.6 123.5L534.2 100.0ZM208.2 92.0L208.7 71.7L209.9 71.7L210.4 92.0ZM208.3 102.0L208.7 127.8L209.9 127.8L210.3 102.0Z" fill="#0072bd"/><path d="M95.2 44.3V88.0M96.8 47.0V88.0M96.0 60.0V90.0M93.5 112.0V158.0M94.3 112.0V163.6M112.2 84.4V92.0M209.3 71.7V127.8M218.0 88.2V92.0M360.8 72.1V90.0M366.7 120.0V141.7M368.6 33.9V85.0M371.5 80.0V128.0M383.4 110.0V168.2M384.6 50.0V85.0M385.6 37.8V85.0M382.7 64.0V85.0M401.0 110.0V146.6M404.0 54.5V88.0M531.3 77.7V92.0M533.4 65.3V123.5M545.6 86.3V92.0M607.5 100.0V103.5M692.2 36.2V85.0M691.3 118.0V135.4M286.5 89.5V92.0" stroke="#0072bd" stroke-width="1.4" fill="none"/>
<text x="71.2" y="202.2" text-anchor="end" class="t">0</text>
<text x="71.2" y="155.8" text-anchor="end" class="t">2</text>
<text x="71.2" y="109.4" text-anchor="end" class="t">4</text>
<text x="71.2" y="63.1" text-anchor="end" class="t">6</text>
<text x="71.2" y="16.7" text-anchor="end" class="t">8</text>
<path d="M156.97 243.07V428.93M234.70 243.07V428.93M312.43 243.07V428.93M390.15 243.07V428.93M467.88 243.07V428.93M545.60 243.07V428.93M623.33 243.07V428.93M701.05 243.07V428.93M79.25 397.95H701.65M79.25 336.00H701.65M79.25 274.05H701.65" stroke="#dfdfdf" stroke-width="1.2" fill="none"/>
<path d="M79.25 243.07V429.53M78.65 428.93H701.65" stroke="#262626" stroke-width="1.2" fill="none"/>
<path d="M79.25 428.93v-7M156.97 428.93v-7M234.70 428.93v-7M312.43 428.93v-7M390.15 428.93v-7M467.88 428.93v-7M545.60 428.93v-7M623.33 428.93v-7M701.05 428.93v-7M79.25 397.95h7M79.25 336.00h7M79.25 274.05h7" stroke="#262626" stroke-width="1.2" fill="none"/>
<path d="M79.0 274.6 80.0 274.6 80.0 277.0 81.0 277.0 81.0 276.9 82.0 276.9 82.0 275.6 83.0 275.6 83.0 276.0 84.0 276.0 84.0 276.2 85.0 276.2 85.0 273.1 86.0 273.1 86.0 274.4 87.0 274.4 87.0 274.5 88.0 274.5 88.0 274.2 89.0 274.2 89.0 274.3 90.0 274.3 90.0 273.6 91.0 273.6 91.0 273.9 92.0 273.9 92.0 273.7 93.0 273.7 93.0 273.5 94.0 273.5 94.0 271.2 95.0 271.2 95.0 272.8 96.0 272.8 96.0 272.7 97.0 272.7 97.0 273.0 98.0 273.0 98.0 273.5 99.0 273.5 99.0 273.6 100.0 273.6 100.0 272.8 101.0 272.8 101.0 273.1 102.0 273.1 102.0 272.9 103.0 272.9 103.0 269.8 104.0 269.8 104.0 272.5 105.0 272.5 105.0 272.5 106.0 272.5 106.0 270.1 107.0 270.1 107.0 271.9 108.0 271.9 108.0 271.1 109.0 271.1 109.0 270.5 110.0 270.5 110.0 271.2 111.0 271.2 111.0 271.0 112.0 271.0 112.0 268.6 113.0 268.6 113.0 269.7 114.0 269.7 114.0 267.7 115.0 267.7 115.0 269.2 116.0 269.2 116.0 268.4 117.0 268.4 117.0 269.0 118.0 269.0 118.0 267.5 119.0 267.5 119.0 268.7 120.0 268.7 120.0 268.7 121.0 268.7 121.0 268.0 122.0 268.0 122.0 267.8 123.0 267.8 123.0 268.0 124.0 268.0 124.0 267.6 125.0 267.6 125.0 267.9 126.0 267.9 126.0 267.7 127.0 267.7 127.0 266.8 128.0 266.8 128.0 267.1 129.0 267.1 129.0 266.7 130.0 266.7 130.0 266.5 131.0 266.5 131.0 266.4 132.0 266.4 132.0 267.3 133.0 267.3 133.0 266.7 134.0 266.7 134.0 266.4 135.0 266.4 135.0 265.8 136.0 265.8 136.0 266.1 137.0 266.1 137.0 266.2 138.0 266.2 138.0 263.7 139.0 263.7 139.0 265.9 140.0 265.9 140.0 264.3 141.0 264.3 141.0 266.6 142.0 266.6 142.0 265.2 143.0 265.2 143.0 264.4 144.0 264.4 144.0 266.4 145.0 266.4 145.0 264.3 146.0 264.3 146.0 264.0 147.0 264.0 147.0 263.8 148.0 263.8 148.0 266.0 149.0 266.0 149.0 266.1 150.0 266.1 150.0 266.4 151.0 266.4 151.0 266.7 152.0 266.7 152.0 266.3 153.0 266.3 153.0 265.1 154.0 265.1 154.0 264.2 155.0 264.2 155.0 267.0 156.0 267.0 156.0 266.8 157.0 266.8 157.0 267.0 158.0 267.0 158.0 266.4 159.0 266.4 159.0 266.2 160.0 266.2 160.0 266.4 161.0 266.4 161.0 264.4 162.0 264.4 162.0 266.8 163.0 266.8 163.0 265.7 164.0 265.7 164.0 266.5 165.0 266.5 165.0 264.4 166.0 264.4 166.0 267.2 167.0 267.2 167.0 267.2 168.0 267.2 168.0 265.1 169.0 265.1 169.0 266.6 170.0 266.6 170.0 266.4 171.0 266.4 171.0 266.2 172.0 266.2 172.0 264.7 173.0 264.7 173.0 266.1 174.0 266.1 174.0 264.6 175.0 264.6 175.0 265.2 176.0 265.2 176.0 265.9 177.0 265.9 177.0 266.2 178.0 266.2 178.0 265.8 179.0 265.8 179.0 265.9 180.0 265.9 180.0 265.4 181.0 265.4 181.0 266.7 182.0 266.7 182.0 266.2 183.0 266.2 183.0 266.3 184.0 266.3 184.0 266.5 185.0 266.5 185.0 265.8 186.0 265.8 186.0 265.8 187.0 265.8 187.0 266.4 188.0 266.4 188.0 266.0 189.0 266.0 189.0 265.9 190.0 265.9 190.0 265.9 191.0 265.9 191.0 266.1 192.0 266.1 192.0 266.9 193.0 266.9 193.0 266.9 194.0 266.9 194.0 265.4 195.0 265.4 195.0 266.7 196.0 266.7 196.0 266.1 197.0 266.1 197.0 267.0 198.0 267.0 198.0 266.9 199.0 266.9 199.0 265.3 200.0 265.3 200.0 265.8 201.0 265.8 201.0 267.0 202.0 267.0 202.0 267.0 203.0 267.0 203.0 267.0 203.6 267.0 203.6 267.6 203.6 267.6 203.6 277.4 203.6 277.4 203.6 275.8 203.0 275.8 203.0 275.4 202.0 275.4 202.0 276.0 201.0 276.0 201.0 277.7 200.0 277.7 200.0 276.3 199.0 276.3 199.0 276.0 198.0 276.0 198.0 275.9 197.0 275.9 197.0 276.0 196.0 276.0 196.0 276.0 195.0 276.0 195.0 276.2 194.0 276.2 194.0 275.9 193.0 275.9 193.0 276.0 192.0 276.0 192.0 277.7 191.0 277.7 191.0 278.1 190.0 278.1 190.0 275.9 189.0 275.9 189.0 276.0 188.0 276.0 188.0 276.0 187.0 276.0 187.0 275.9 186.0 275.9 186.0 275.7 185.0 275.7 185.0 276.6 184.0 276.6 184.0 276.4 183.0 276.4 183.0 275.8 182.0 275.8 182.0 275.5 181.0 275.5 181.0 276.9 180.0 276.9 180.0 276.1 179.0 276.1 179.0 275.4 178.0 275.4 178.0 275.5 177.0 275.5 177.0 275.7 176.0 275.7 176.0 276.2 175.0 276.2 175.0 275.7 174.0 275.7 174.0 278.3 173.0 278.3 173.0 276.3 172.0 276.3 172.0 275.4 171.0 275.4 171.0 275.4 170.0 275.4 170.0 276.5 169.0 276.5 169.0 275.8 168.0 275.8 168.0 276.2 167.0 276.2 167.0 275.8 166.0 275.8 166.0 276.1 165.0 276.1 165.0 275.6 164.0 275.6 164.0 277.3 163.0 277.3 163.0 276.1 162.0 276.1 162.0 275.7 161.0 275.7 161.0 275.4 160.0 275.4 160.0 275.5 159.0 275.5 159.0 277.7 158.0 277.7 158.0 275.8 157.0 275.8 157.0 276.6 156.0 276.6 156.0 275.8 155.0 275.8 155.0 277.7 154.0 277.7 154.0 275.3 153.0 275.3 153.0 275.8 152.0 275.8 152.0 275.6 151.0 275.6 151.0 275.6 150.0 275.6 150.0 275.5 149.0 275.5 149.0 277.9 148.0 277.9 148.0 275.1 147.0 275.1 147.0 275.8 146.0 275.8 146.0 278.2 145.0 278.2 145.0 275.3 144.0 275.3 144.0 277.8 143.0 277.8 143.0 275.4 142.0 275.4 142.0 275.8 141.0 275.8 141.0 277.9 140.0 277.9 140.0 276.3 139.0 276.3 139.0 275.9 138.0 275.9 138.0 276.3 137.0 276.3 137.0 277.3 136.0 277.3 136.0 276.6 135.0 276.6 135.0 277.0 134.0 277.0 134.0 278.0 133.0 278.0 133.0 277.5 132.0 277.5 132.0 277.0 131.0 277.0 131.0 277.1 130.0 277.1 130.0 277.9 129.0 277.9 129.0 278.0 128.0 278.0 128.0 277.6 127.0 277.6 127.0 277.8 126.0 277.8 126.0 278.2 125.0 278.2 125.0 278.0 124.0 278.0 124.0 279.0 123.0 279.0 123.0 278.7 122.0 278.7 122.0 280.7 121.0 280.7 121.0 279.5 120.0 279.5 120.0 279.5 119.0 279.5 119.0 279.4 118.0 279.4 118.0 280.7 117.0 280.7 117.0 280.9 116.0 280.9 116.0 282.7 115.0 282.7 115.0 281.4 114.0 281.4 114.0 280.8 113.0 280.8 113.0 280.3 112.0 280.3 112.0 280.4 111.0 280.4 111.0 281.6 110.0 281.6 110.0 281.1 109.0 281.1 109.0 280.9 108.0 280.9 108.0 280.3 107.0 280.3 107.0 280.8 106.0 280.8 106.0 280.4 105.0 280.4 105.0 280.8 104.0 280.8 104.0 280.2 103.0 280.2 103.0 280.8 102.0 280.8 102.0 281.0 101.0 281.0 101.0 281.0 100.0 281.0 100.0 281.4 99.0 281.4 99.0 283.8 98.0 283.8 98.0 284.8 97.0 284.8 97.0 292.5 96.0 292.5 96.0 294.8 95.0 294.8 95.0 293.9 94.0 293.9 94.0 294.5 93.0 294.5 93.0 295.3 92.0 295.3 92.0 295.6 91.0 295.6 91.0 296.0 90.0 296.0 90.0 295.8 89.0 295.8 89.0 295.1 88.0 295.1 88.0 291.1 87.0 291.1 87.0 287.8 86.0 287.8 86.0 287.8 85.0 287.8 85.0 289.7 84.0 289.7 84.0 289.1 83.0 289.1 83.0 289.5 82.0 289.5 82.0 288.9 81.0 288.9 81.0 289.1 80.0 289.1 80.0 288.8 79.0 288.8ZM204.3 346.9 205.3 346.9 205.3 349.0 206.3 349.0 206.3 350.4 207.3 350.4 207.3 352.6 208.3 352.6 208.3 353.1 209.3 353.1 209.3 353.7 210.3 353.7 210.3 354.4 211.3 354.4 211.3 354.4 212.3 354.4 212.3 355.1 213.3 355.1 213.3 355.8 214.3 355.8 214.3 356.5 215.3 356.5 215.3 356.8 216.3 356.8 216.3 346.8 217.3 346.8 217.3 343.2 218.3 343.2 218.3 343.4 219.3 343.4 219.3 343.3 220.3 343.3 220.3 343.2 221.3 343.2 221.3 343.0 222.3 343.0 222.3 343.3 223.3 343.3 223.3 343.1 224.3 343.1 224.3 343.1 225.3 343.1 225.3 343.2 226.3 343.2 226.3 359.4 227.3 359.4 227.3 360.2 228.3 360.2 228.3 360.5 229.3 360.5 229.3 360.8 230.3 360.8 230.3 361.1 231.3 361.1 231.3 361.6 232.3 361.6 232.3 361.8 233.3 361.8 233.3 362.8 234.3 362.8 234.3 363.3 235.3 363.3 235.3 363.6 236.3 363.6 236.3 364.6 237.3 364.6 237.3 365.5 238.3 365.5 238.3 366.2 239.3 366.2 239.3 367.0 240.3 367.0 240.3 366.9 241.3 366.9 241.3 368.5 242.3 368.5 242.3 368.7 243.3 368.7 243.3 369.3 244.3 369.3 244.3 369.5 245.3 369.5 245.3 370.2 246.3 370.2 246.3 370.5 247.3 370.5 247.3 370.5 248.3 370.5 248.3 369.9 249.3 369.9 249.3 371.7 250.3 371.7 250.3 371.8 251.3 371.8 251.3 372.1 252.3 372.1 252.3 372.8 253.3 372.8 253.3 372.8 254.3 372.8 254.3 373.3 255.3 373.3 255.3 373.8 256.3 373.8 256.3 373.7 257.3 373.7 257.3 374.4 258.3 374.4 258.3 374.7 259.3 374.7 259.3 375.1 260.3 375.1 260.3 375.0 261.3 375.0 261.3 375.7 262.3 375.7 262.3 375.7 263.3 375.7 263.3 376.3 264.3 376.3 264.3 376.5 265.3 376.5 265.3 376.8 266.3 376.8 266.3 377.2 267.3 377.2 267.3 376.9 268.3 376.9 268.3 377.3 269.3 377.3 269.3 377.6 270.3 377.6 270.3 378.2 271.3 378.2 271.3 378.0 272.3 378.0 272.3 378.8 273.3 378.8 273.3 379.0 274.3 379.0 274.3 379.0 275.3 379.0 275.3 379.4 276.3 379.4 276.3 379.7 277.3 379.7 277.3 379.5 278.3 379.5 278.3 379.9 279.3 379.9 279.3 380.2 280.3 380.2 280.3 380.2 281.3 380.2 281.3 380.7 282.3 380.7 282.3 381.2 283.3 381.2 283.3 381.0 284.3 381.0 284.3 381.5 285.3 381.5 285.3 381.4 286.3 381.4 286.3 382.1 287.3 382.1 287.3 382.2 288.3 382.2 288.3 382.2 289.3 382.2 289.3 382.6 290.3 382.6 290.3 381.4 291.3 381.4 291.3 383.0 292.3 383.0 292.3 383.3 293.3 383.3 293.3 384.0 294.3 384.0 294.3 383.8 295.3 383.8 295.3 384.5 296.3 384.5 296.3 384.8 297.3 384.8 297.3 384.8 298.3 384.8 298.3 384.7 299.3 384.7 299.3 383.7 300.3 383.7 300.3 385.4 301.3 385.4 301.3 385.1 302.3 385.1 302.3 384.2 303.3 384.2 303.3 385.8 304.3 385.8 304.3 385.9 305.3 385.9 305.3 385.7 306.3 385.7 306.3 386.1 307.3 386.1 307.3 386.2 308.3 386.2 308.3 386.4 309.3 386.4 309.3 386.1 310.3 386.1 310.3 386.8 311.3 386.8 311.3 386.8 312.3 386.8 312.3 386.8 313.3 386.8 313.3 387.1 314.3 387.1 314.3 387.5 315.3 387.5 315.3 387.3 316.3 387.3 316.3 387.8 317.3 387.8 317.3 387.9 318.3 387.9 318.3 388.1 319.3 388.1 319.3 388.1 320.3 388.1 320.3 388.3 321.3 388.3 321.3 388.6 322.3 388.6 322.3 387.9 323.3 387.9 323.3 389.0 324.3 389.0 324.3 389.0 325.3 389.0 325.3 388.9 326.3 388.9 326.3 389.1 327.3 389.1 327.3 389.5 328.3 389.5 328.3 388.7 329.3 388.7 329.3 389.5 330.3 389.5 330.3 389.8 331.3 389.8 331.3 390.0 332.3 390.0 332.3 390.4 333.3 390.4 333.3 390.6 334.3 390.6 334.3 390.8 335.3 390.8 335.3 390.5 336.3 390.5 336.3 391.0 337.3 391.0 337.3 390.9 338.3 390.9 338.3 391.3 339.3 391.3 339.3 391.5 340.3 391.5 340.3 391.5 341.3 391.5 341.3 391.4 342.3 391.4 342.3 391.8 343.3 391.8 343.3 391.6 344.3 391.6 344.3 391.8 345.3 391.8 345.3 391.7 346.3 391.7 346.3 391.8 347.3 391.8 347.3 392.3 348.3 392.3 348.3 392.1 349.3 392.1 349.3 392.2 350.3 392.2 350.3 392.5 351.3 392.5 351.3 392.6 352.3 392.6 352.3 392.4 353.3 392.4 353.3 392.5 354.3 392.5 354.3 393.0 355.3 393.0 355.3 392.7 356.3 392.7 356.3 392.7 357.3 392.7 357.3 392.7 357.8 392.7 357.8 393.1 357.8 393.1 357.8 401.8 357.8 401.8 357.8 402.4 357.3 402.4 357.3 401.2 356.3 401.2 356.3 401.4 355.3 401.4 355.3 401.8 354.3 401.8 354.3 401.1 353.3 401.1 353.3 400.3 352.3 400.3 352.3 400.1 351.3 400.1 351.3 400.4 350.3 400.4 350.3 400.0 349.3 400.0 349.3 399.9 348.3 399.9 348.3 399.8 347.3 399.8 347.3 399.4 346.3 399.4 346.3 399.1 345.3 399.1 345.3 398.9 344.3 398.9 344.3 399.0 343.3 399.0 343.3 398.8 342.3 398.8 342.3 398.5 341.3 398.5 341.3 398.5 340.3 398.5 340.3 398.4 339.3 398.4 339.3 398.2 338.3 398.2 338.3 398.0 337.3 398.0 337.3 397.6 336.3 397.6 336.3 397.7 335.3 397.7 335.3 397.1 334.3 397.1 334.3 397.4 333.3 397.4 333.3 397.2 332.3 397.2 332.3 396.9 331.3 396.9 331.3 396.5 330.3 396.5 330.3 396.5 329.3 396.5 329.3 396.6 328.3 396.6 328.3 396.1 327.3 396.1 327.3 395.7 326.3 395.7 326.3 396.1 325.3 396.1 325.3 395.5 324.3 395.5 324.3 395.7 323.3 395.7 323.3 395.1 322.3 395.1 322.3 395.5 321.3 395.5 321.3 394.9 320.3 394.9 320.3 394.5 319.3 394.5 319.3 394.7 318.3 394.7 318.3 394.2 317.3 394.2 317.3 394.3 316.3 394.3 316.3 394.3 315.3 394.3 315.3 393.7 314.3 393.7 314.3 393.4 313.3 393.4 313.3 393.8 312.3 393.8 312.3 393.5 311.3 393.5 311.3 393.3 310.3 393.3 310.3 392.9 309.3 392.9 309.3 392.6 308.3 392.6 308.3 392.5 307.3 392.5 307.3 392.4 306.3 392.4 306.3 392.6 305.3 392.6 305.3 392.3 304.3 392.3 304.3 392.2 303.3 392.2 303.3 391.9 302.3 391.9 302.3 391.6 301.3 391.6 301.3 391.4 300.3 391.4 300.3 392.7 299.3 392.7 299.3 390.9 298.3 390.9 298.3 390.7 297.3 390.7 297.3 392.0 296.3 392.0 296.3 390.7 295.3 390.7 295.3 390.1 294.3 390.1 294.3 391.6 293.3 391.6 293.3 389.9 292.3 389.9 292.3 390.1 291.3 390.1 291.3 389.9 290.3 389.9 290.3 389.3 289.3 389.3 289.3 389.5 288.3 389.5 288.3 389.4 287.3 389.4 287.3 389.2 286.3 389.2 286.3 388.9 285.3 388.9 285.3 389.8 284.3 389.8 284.3 388.8 283.3 388.8 283.3 388.5 282.3 388.5 282.3 388.2 281.3 388.2 281.3 388.2 280.3 388.2 280.3 388.2 279.3 388.2 279.3 388.1 278.3 388.1 278.3 388.0 277.3 388.0 277.3 387.6 276.3 387.6 276.3 387.1 275.3 387.1 275.3 388.9 274.3 388.9 274.3 387.2 273.3 387.2 273.3 386.5 272.3 386.5 272.3 386.7 271.3 386.7 271.3 386.1 270.3 386.1 270.3 386.2 269.3 386.2 269.3 386.0 268.3 386.0 268.3 385.4 267.3 385.4 267.3 385.6 266.3 385.6 266.3 384.7 265.3 384.7 265.3 384.9 264.3 384.9 264.3 384.4 263.3 384.4 263.3 384.2 262.3 384.2 262.3 383.8 261.3 383.8 261.3 383.6 260.3 383.6 260.3 383.0 259.3 383.0 259.3 383.2 258.3 383.2 258.3 382.7 257.3 382.7 257.3 383.5 256.3 383.5 256.3 383.3 255.3 383.3 255.3 382.1 254.3 382.1 254.3 381.4 253.3 381.4 253.3 381.3 252.3 381.3 252.3 380.9 251.3 380.9 251.3 380.5 250.3 380.5 250.3 381.3 249.3 381.3 249.3 379.5 248.3 379.5 248.3 378.9 247.3 378.9 247.3 378.3 246.3 378.3 246.3 377.9 245.3 377.9 245.3 377.3 244.3 377.3 244.3 377.3 243.3 377.3 243.3 376.7 242.3 376.7 242.3 376.0 241.3 376.0 241.3 375.7 240.3 375.7 240.3 374.4 239.3 374.4 239.3 372.9 238.3 372.9 238.3 371.7 237.3 371.7 237.3 371.2 236.3 371.2 236.3 370.8 235.3 370.8 235.3 370.0 234.3 370.0 234.3 370.6 233.3 370.6 233.3 368.9 232.3 368.9 232.3 368.4 231.3 368.4 231.3 368.1 230.3 368.1 230.3 367.4 229.3 367.4 229.3 366.9 228.3 366.9 228.3 366.1 227.3 366.1 227.3 365.1 226.3 365.1 226.3 359.5 225.3 359.5 225.3 359.0 224.3 359.0 224.3 359.0 223.3 359.0 223.3 360.0 222.3 360.0 222.3 359.3 221.3 359.3 221.3 359.1 220.3 359.1 220.3 359.2 219.3 359.2 219.3 359.2 218.3 359.2 218.3 359.3 217.3 359.3 217.3 360.1 216.3 360.1 216.3 361.8 215.3 361.8 215.3 360.9 214.3 360.9 214.3 361.1 213.3 361.1 213.3 360.4 212.3 360.4 212.3 360.1 211.3 360.1 211.3 360.0 210.3 360.0 210.3 359.8 209.3 359.8 209.3 359.2 208.3 359.2 208.3 360.2 207.3 360.2 207.3 359.5 206.3 359.5 206.3 360.9 205.3 360.9 205.3 362.0 204.3 362.0ZM358.6 285.9 359.6 285.9 359.6 289.2 360.6 289.2 360.6 288.7 361.6 288.7 361.6 287.1 362.6 287.1 362.6 289.2 363.6 289.2 363.6 289.1 364.6 289.1 364.6 288.2 365.6 288.2 365.6 287.6 366.6 287.6 366.6 286.7 367.6 286.7 367.6 284.6 368.6 284.6 368.6 283.9 369.6 283.9 369.6 285.9 370.6 285.9 370.6 286.0 371.6 286.0 371.6 286.4 372.6 286.4 372.6 286.5 373.6 286.5 373.6 281.9 374.6 281.9 374.6 283.6 375.6 283.6 375.6 283.7 376.6 283.7 376.6 282.5 377.6 282.5 377.6 280.7 378.6 280.7 378.6 280.7 379.6 280.7 379.6 277.9 380.6 277.9 380.6 279.6 381.6 279.6 381.6 279.5 382.6 279.5 382.6 278.6 383.6 278.6 383.6 279.0 384.6 279.0 384.6 278.4 385.6 278.4 385.6 276.2 386.6 276.2 386.6 277.9 387.6 277.9 387.6 278.0 388.6 278.0 388.6 277.9 389.6 277.9 389.6 278.0 390.6 278.0 390.6 276.3 391.6 276.3 391.6 278.0 392.6 278.0 392.6 274.7 393.6 274.7 393.6 277.4 394.6 277.4 394.6 275.0 395.6 275.0 395.6 275.5 396.6 275.5 396.6 272.5 397.6 272.5 397.6 274.7 398.6 274.7 398.6 274.3 399.6 274.3 399.6 274.0 400.6 274.0 400.6 271.2 401.6 271.2 401.6 270.0 402.6 270.0 402.6 273.5 403.6 273.5 403.6 274.0 404.6 274.0 404.6 270.5 405.6 270.5 405.6 271.1 406.6 271.1 406.6 271.9 407.6 271.9 407.6 271.8 408.6 271.8 408.6 272.1 409.6 272.1 409.6 271.9 410.6 271.9 410.6 271.2 411.6 271.2 411.6 271.0 412.6 271.0 412.6 271.8 413.6 271.8 413.6 271.5 414.6 271.5 414.6 271.3 415.6 271.3 415.6 270.1 416.6 270.1 416.6 271.2 417.6 271.2 417.6 270.8 418.6 270.8 418.6 269.9 419.6 269.9 419.6 270.8 420.6 270.8 420.6 270.7 421.6 270.7 421.6 267.4 422.6 267.4 422.6 269.3 423.6 269.3 423.6 269.7 424.6 269.7 424.6 268.0 425.6 268.0 425.6 268.0 426.6 268.0 426.6 266.9 427.6 266.9 427.6 265.3 428.6 265.3 428.6 268.1 429.6 268.1 429.6 267.1 430.6 267.1 430.6 265.2 431.6 265.2 431.6 266.3 432.6 266.3 432.6 267.1 433.6 267.1 433.6 267.1 434.6 267.1 434.6 265.6 435.6 265.6 435.6 267.5 436.6 267.5 436.6 267.4 437.6 267.4 437.6 266.3 438.6 266.3 438.6 266.9 439.6 266.9 439.6 266.6 440.6 266.6 440.6 267.1 441.6 267.1 441.6 265.4 442.6 265.4 442.6 267.0 443.6 267.0 443.6 267.0 444.6 267.0 444.6 264.4 445.6 264.4 445.6 266.5 446.6 266.5 446.6 266.9 447.6 266.9 447.6 266.3 448.6 266.3 448.6 264.9 449.6 264.9 449.6 266.6 450.6 266.6 450.6 266.7 451.6 266.7 451.6 266.1 452.6 266.1 452.6 266.5 453.6 266.5 453.6 265.7 454.6 265.7 454.6 264.1 455.6 264.1 455.6 266.0 456.6 266.0 456.6 266.4 457.6 266.4 457.6 266.3 458.6 266.3 458.6 265.9 459.6 265.9 459.6 265.6 460.6 265.6 460.6 265.6 461.6 265.6 461.6 265.5 462.6 265.5 462.6 266.1 463.6 266.1 463.6 266.0 464.6 266.0 464.6 265.4 465.6 265.4 465.6 266.1 466.6 266.1 466.6 265.7 467.6 265.7 467.6 264.9 468.6 264.9 468.6 265.3 469.6 265.3 469.6 265.1 470.6 265.1 470.6 265.2 471.6 265.2 471.6 265.7 472.6 265.7 472.6 265.2 473.6 265.2 473.6 263.3 474.6 263.3 474.6 265.0 475.6 265.0 475.6 264.6 476.6 264.6 476.6 264.8 477.6 264.8 477.6 263.9 478.6 263.9 478.6 265.7 479.6 265.7 479.6 264.4 480.6 264.4 480.6 265.6 481.6 265.6 481.6 264.9 482.6 264.9 482.6 265.1 483.6 265.1 483.6 264.9 484.6 264.9 484.6 264.9 485.6 264.9 485.6 264.3 486.6 264.3 486.6 265.2 487.6 265.2 487.6 265.4 488.6 265.4 488.6 264.6 489.6 264.6 489.6 265.0 490.6 265.0 490.6 265.1 491.6 265.1 491.6 265.0 492.6 265.0 492.6 264.9 493.6 264.9 493.6 264.9 494.6 264.9 494.6 264.4 495.6 264.4 495.6 264.3 496.6 264.3 496.6 265.6 497.6 265.6 497.6 265.9 498.6 265.9 498.6 265.2 499.6 265.2 499.6 265.1 500.6 265.1 500.6 265.6 501.6 265.6 501.6 265.3 502.6 265.3 502.6 265.8 503.6 265.8 503.6 265.1 504.6 265.1 504.6 265.8 505.6 265.8 505.6 266.1 506.6 266.1 506.6 265.4 507.6 265.4 507.6 265.9 508.6 265.9 508.6 265.9 509.6 265.9 509.6 265.2 510.6 265.2 510.6 265.6 511.6 265.6 511.6 265.6 512.6 265.6 512.6 266.2 513.6 266.2 513.6 266.7 514.6 266.7 514.6 266.1 515.6 266.1 515.6 266.6 516.6 266.6 516.6 264.7 517.6 264.7 517.6 266.4 518.6 266.4 518.6 266.7 519.6 266.7 519.6 267.0 520.6 267.0 520.6 265.5 521.6 265.5 521.6 264.8 522.6 264.8 522.6 266.4 523.6 266.4 523.6 266.6 524.6 266.6 524.6 267.4 525.6 267.4 525.6 267.3 526.6 267.3 526.6 265.6 527.6 265.6 527.6 266.7 528.4 266.7 528.4 266.8 528.4 266.8 528.4 278.0 528.4 278.0 528.4 275.5 527.6 275.5 527.6 277.7 526.6 277.7 526.6 276.0 525.6 276.0 525.6 276.1 524.6 276.1 524.6 276.1 523.6 276.1 523.6 277.6 522.6 277.6 522.6 275.8 521.6 275.8 521.6 278.1 520.6 278.1 520.6 275.9 519.6 275.9 519.6 276.4 518.6 276.4 518.6 278.8 517.6 278.8 517.6 278.0 516.6 278.0 516.6 275.6 515.6 275.6 515.6 276.2 514.6 276.2 514.6 275.5 513.6 275.5 513.6 275.7 512.6 275.7 512.6 275.6 511.6 275.6 511.6 275.5 510.6 275.5 510.6 276.2 509.6 276.2 509.6 275.4 508.6 275.4 508.6 275.4 507.6 275.4 507.6 275.8 506.6 275.8 506.6 276.2 505.6 276.2 505.6 276.3 504.6 276.3 504.6 275.8 503.6 275.8 503.6 275.2 502.6 275.2 502.6 276.0 501.6 276.0 501.6 277.9 500.6 277.9 500.6 275.2 499.6 275.2 499.6 275.3 498.6 275.3 498.6 276.0 497.6 276.0 497.6 275.1 496.6 275.1 496.6 275.8 495.6 275.8 495.6 277.4 494.6 277.4 494.6 275.4 493.6 275.4 493.6 275.6 492.6 275.6 492.6 275.5 491.6 275.5 491.6 275.0 490.6 275.0 490.6 275.5 489.6 275.5 489.6 275.0 488.6 275.0 488.6 275.7 487.6 275.7 487.6 275.2 486.6 275.2 486.6 274.9 485.6 274.9 485.6 275.5 484.6 275.5 484.6 275.2 483.6 275.2 483.6 275.8 482.6 275.8 482.6 277.4 481.6 277.4 481.6 275.4 480.6 275.4 480.6 277.0 479.6 277.0 479.6 275.3 478.6 275.3 478.6 275.3 477.6 275.3 477.6 276.0 476.6 276.0 476.6 276.0 475.6 276.0 475.6 275.3 474.6 275.3 474.6 275.7 473.6 275.7 473.6 277.6 472.6 277.6 472.6 275.1 471.6 275.1 471.6 276.6 470.6 276.6 470.6 275.1 469.6 275.1 469.6 275.3 468.6 275.3 468.6 275.2 467.6 275.2 467.6 275.7 466.6 275.7 466.6 274.9 465.6 274.9 465.6 275.9 464.6 275.9 464.6 275.1 463.6 275.1 463.6 275.8 462.6 275.8 462.6 275.1 461.6 275.1 461.6 275.5 460.6 275.5 460.6 275.8 459.6 275.8 459.6 275.8 458.6 275.8 458.6 275.9 457.6 275.9 457.6 277.3 456.6 277.3 456.6 276.8 455.6 276.8 455.6 277.0 454.6 277.0 454.6 275.6 453.6 275.6 453.6 275.8 452.6 275.8 452.6 276.9 451.6 276.9 451.6 275.9 450.6 275.9 450.6 275.5 449.6 275.5 449.6 275.7 448.6 275.7 448.6 276.8 447.6 276.8 447.6 276.7 446.6 276.7 446.6 276.3 445.6 276.3 445.6 276.0 444.6 276.0 444.6 276.6 443.6 276.6 443.6 276.5 442.6 276.5 442.6 276.0 441.6 276.0 441.6 277.8 440.6 277.8 440.6 276.1 439.6 276.1 439.6 276.4 438.6 276.4 438.6 276.7 437.6 276.7 437.6 276.9 436.6 276.9 436.6 276.3 435.6 276.3 435.6 276.7 434.6 276.7 434.6 277.3 433.6 277.3 433.6 278.9 432.6 278.9 432.6 277.9 431.6 277.9 431.6 280.4 430.6 280.4 430.6 278.1 429.6 278.1 429.6 278.1 428.6 278.1 428.6 279.6 427.6 279.6 427.6 279.0 426.6 279.0 426.6 279.2 425.6 279.2 425.6 278.4 424.6 278.4 424.6 279.6 423.6 279.6 423.6 279.5 422.6 279.5 422.6 279.4 421.6 279.4 421.6 279.9 420.6 279.9 420.6 279.1 419.6 279.1 419.6 279.3 418.6 279.3 418.6 280.0 417.6 280.0 417.6 279.3 416.6 279.3 416.6 279.8 415.6 279.8 415.6 279.7 414.6 279.7 414.6 280.0 413.6 280.0 413.6 278.9 412.6 278.9 412.6 278.9 411.6 278.9 411.6 280.4 410.6 280.4 410.6 280.2 409.6 280.2 409.6 282.1 408.6 282.1 408.6 281.8 407.6 281.8 407.6 284.1 406.6 284.1 406.6 284.1 405.6 284.1 405.6 286.3 404.6 286.3 404.6 288.4 403.6 288.4 403.6 291.0 402.6 291.0 402.6 292.6 401.6 292.6 401.6 294.2 400.6 294.2 400.6 297.0 399.6 297.0 399.6 298.9 398.6 298.9 398.6 295.3 397.6 295.3 397.6 292.7 396.6 292.7 396.6 290.4 395.6 290.4 395.6 289.0 394.6 289.0 394.6 289.9 393.6 289.9 393.6 291.7 392.6 291.7 392.6 292.3 391.6 292.3 391.6 291.2 390.6 291.2 390.6 291.2 389.6 291.2 389.6 288.2 388.6 288.2 388.6 287.0 387.6 287.0 387.6 295.7 386.6 295.7 386.6 302.1 385.6 302.1 385.6 306.3 384.6 306.3 384.6 307.6 383.6 307.6 383.6 308.1 382.6 308.1 382.6 307.4 381.6 307.4 381.6 309.4 380.6 309.4 380.6 306.5 379.6 306.5 379.6 305.0 378.6 305.0 378.6 305.1 377.6 305.1 377.6 305.0 376.6 305.0 376.6 305.4 375.6 305.4 375.6 306.8 374.6 306.8 374.6 306.3 373.6 306.3 373.6 307.4 372.6 307.4 372.6 307.9 371.6 307.9 371.6 307.8 370.6 307.8 370.6 307.8 369.6 307.8 369.6 310.3 368.6 310.3 368.6 318.0 367.6 318.0 367.6 316.8 366.6 316.8 366.6 320.1 365.6 320.1 365.6 315.5 364.6 315.5 364.6 318.4 363.6 318.4 363.6 316.5 362.6 316.5 362.6 317.9 361.6 317.9 361.6 317.6 360.6 317.6 360.6 317.3 359.6 317.3 359.6 317.8 358.6 317.8ZM529.0 348.9 530.0 348.9 530.0 350.8 531.0 350.8 531.0 351.6 532.0 351.6 532.0 352.5 533.0 352.5 533.0 354.1 534.0 354.1 534.0 354.7 535.0 354.7 535.0 355.2 536.0 355.2 536.0 356.1 537.0 356.1 537.0 356.5 538.0 356.5 538.0 357.3 539.0 357.3 539.0 347.6 540.0 347.6 540.0 343.3 541.0 343.3 541.0 343.0 542.0 343.0 542.0 343.2 543.0 343.2 543.0 343.1 544.0 343.1 544.0 343.7 545.0 343.7 545.0 343.3 546.0 343.3 546.0 343.2 547.0 343.2 547.0 343.8 548.0 343.8 548.0 343.6 549.0 343.6 549.0 343.5 550.0 343.5 550.0 343.2 551.0 343.2 551.0 343.5 552.0 343.5 552.0 347.4 553.0 347.4 553.0 358.6 554.0 358.6 554.0 360.1 555.0 360.1 555.0 360.9 556.0 360.9 556.0 361.4 557.0 361.4 557.0 362.1 558.0 362.1 558.0 363.0 559.0 363.0 559.0 363.5 560.0 363.5 560.0 363.5 561.0 363.5 561.0 364.8 562.0 364.8 562.0 365.0 563.0 365.0 563.0 366.2 564.0 366.2 564.0 366.5 565.0 366.5 565.0 367.5 566.0 367.5 566.0 367.3 567.0 367.3 567.0 368.6 568.0 368.6 568.0 368.6 569.0 368.6 569.0 369.5 570.0 369.5 570.0 369.8 571.0 369.8 571.0 369.5 572.0 369.5 572.0 370.7 573.0 370.7 573.0 371.0 574.0 371.0 574.0 371.8 575.0 371.8 575.0 371.6 576.0 371.6 576.0 371.3 577.0 371.3 577.0 372.5 578.0 372.5 578.0 372.9 579.0 372.9 579.0 372.7 580.0 372.7 580.0 373.4 581.0 373.4 581.0 373.8 582.0 373.8 582.0 374.1 583.0 374.1 583.0 374.2 584.0 374.2 584.0 374.5 585.0 374.5 585.0 375.1 586.0 375.1 586.0 375.5 587.0 375.5 587.0 375.5 588.0 375.5 588.0 374.6 589.0 374.6 589.0 374.9 590.0 374.9 590.0 376.1 591.0 376.1 591.0 376.3 592.0 376.3 592.0 376.7 593.0 376.7 593.0 377.0 594.0 377.0 594.0 376.4 595.0 376.4 595.0 377.4 596.0 377.4 596.0 377.5 597.0 377.5 597.0 377.7 598.0 377.7 598.0 377.6 599.0 377.6 599.0 377.8 600.0 377.8 600.0 378.0 601.0 378.0 601.0 378.4 602.0 378.4 602.0 379.0 603.0 379.0 603.0 379.3 604.0 379.3 604.0 379.8 605.0 379.8 605.0 379.9 606.0 379.9 606.0 380.4 607.0 380.4 607.0 380.8 608.0 380.8 608.0 381.5 609.0 381.5 609.0 381.4 610.0 381.4 610.0 382.1 611.0 382.1 611.0 381.8 612.0 381.8 612.0 382.2 613.0 382.2 613.0 382.7 614.0 382.7 614.0 382.6 615.0 382.6 615.0 382.6 616.0 382.6 616.0 383.0 617.0 383.0 617.0 383.1 618.0 383.1 618.0 383.7 619.0 383.7 619.0 383.5 620.0 383.5 620.0 383.6 621.0 383.6 621.0 384.2 622.0 384.2 622.0 384.3 623.0 384.3 623.0 384.8 624.0 384.8 624.0 384.7 625.0 384.7 625.0 385.1 626.0 385.1 626.0 385.2 627.0 385.2 627.0 385.3 628.0 385.3 628.0 385.6 629.0 385.6 629.0 386.2 630.0 386.2 630.0 386.6 631.0 386.6 631.0 386.6 632.0 386.6 632.0 386.7 633.0 386.7 633.0 387.2 634.0 387.2 634.0 386.7 635.0 386.7 635.0 387.5 636.0 387.5 636.0 387.7 637.0 387.7 637.0 387.8 638.0 387.8 638.0 388.2 639.0 388.2 639.0 386.4 640.0 386.4 640.0 388.0 641.0 388.0 641.0 388.3 642.0 388.3 642.0 388.8 643.0 388.8 643.0 388.8 644.0 388.8 644.0 388.7 645.0 388.7 645.0 388.5 646.0 388.5 646.0 389.3 647.0 389.3 647.0 389.1 648.0 389.1 648.0 389.3 649.0 389.3 649.0 389.4 650.0 389.4 650.0 389.5 651.0 389.5 651.0 389.8 652.0 389.8 652.0 390.2 653.0 390.2 653.0 390.4 654.0 390.4 654.0 390.3 655.0 390.3 655.0 388.6 656.0 388.6 656.0 390.8 657.0 390.8 657.0 389.4 658.0 389.4 658.0 391.1 659.0 391.1 659.0 390.9 660.0 390.9 660.0 391.0 661.0 391.0 661.0 391.2 662.0 391.2 662.0 391.8 663.0 391.8 663.0 391.9 664.0 391.9 664.0 390.4 665.0 390.4 665.0 392.1 666.0 392.1 666.0 392.1 667.0 392.1 667.0 392.6 668.0 392.6 668.0 392.3 669.0 392.3 669.0 392.4 670.0 392.4 670.0 392.7 671.0 392.7 671.0 393.1 672.0 393.1 672.0 393.2 673.0 393.2 673.0 393.0 674.0 393.0 674.0 393.5 675.0 393.5 675.0 393.7 676.0 393.7 676.0 393.5 677.0 393.5 677.0 393.5 678.0 393.5 678.0 393.7 679.0 393.7 679.0 393.3 680.0 393.3 680.0 393.7 681.0 393.7 681.0 393.6 682.0 393.6 682.0 393.4 682.5 393.4 682.5 393.7 682.5 393.7 682.5 400.9 682.5 400.9 682.5 400.7 682.0 400.7 682.0 400.3 681.0 400.3 681.0 400.3 680.0 400.3 680.0 400.0 679.0 400.0 679.0 400.0 678.0 400.0 678.0 400.1 677.0 400.1 677.0 399.7 676.0 399.7 676.0 399.7 675.0 399.7 675.0 399.6 674.0 399.6 674.0 399.0 673.0 399.0 673.0 399.1 672.0 399.1 672.0 399.2 671.0 399.2 671.0 399.3 670.0 399.3 670.0 398.6 669.0 398.6 669.0 398.6 668.0 398.6 668.0 398.8 667.0 398.8 667.0 398.4 666.0 398.4 666.0 398.2 665.0 398.2 665.0 398.5 664.0 398.5 664.0 398.4 663.0 398.4 663.0 397.9 662.0 397.9 662.0 398.1 661.0 398.1 661.0 398.1 660.0 398.1 660.0 398.1 659.0 398.1 659.0 397.4 658.0 397.4 658.0 397.4 657.0 397.4 657.0 397.4 656.0 397.4 656.0 397.0 655.0 397.0 655.0 396.7 654.0 396.7 654.0 396.8 653.0 396.8 653.0 396.6 652.0 396.6 652.0 396.4 651.0 396.4 651.0 396.4 650.0 396.4 650.0 396.2 649.0 396.2 649.0 396.0 648.0 396.0 648.0 396.0 647.0 396.0 647.0 395.5 646.0 395.5 646.0 395.3 645.0 395.3 645.0 395.1 644.0 395.1 644.0 395.0 643.0 395.0 643.0 395.0 642.0 395.0 642.0 394.5 641.0 394.5 641.0 394.4 640.0 394.4 640.0 394.4 639.0 394.4 639.0 394.2 638.0 394.2 638.0 394.0 637.0 394.0 637.0 393.4 636.0 393.4 636.0 393.5 635.0 393.5 635.0 393.5 634.0 393.5 634.0 393.8 633.0 393.8 633.0 392.6 632.0 392.6 632.0 392.3 631.0 392.3 631.0 392.5 630.0 392.5 630.0 392.1 629.0 392.1 629.0 393.0 628.0 393.0 628.0 391.2 627.0 391.2 627.0 391.2 626.0 391.2 626.0 390.9 625.0 390.9 625.0 391.0 624.0 391.0 624.0 390.6 623.0 390.6 623.0 390.3 622.0 390.3 622.0 391.1 621.0 391.1 621.0 389.9 620.0 389.9 620.0 390.0 619.0 390.0 619.0 389.6 618.0 389.6 618.0 389.2 617.0 389.2 617.0 389.0 616.0 389.0 616.0 389.2 615.0 389.2 615.0 389.1 614.0 389.1 614.0 388.6 613.0 388.6 613.0 388.8 612.0 388.8 612.0 388.3 611.0 388.3 611.0 388.2 610.0 388.2 610.0 387.9 609.0 387.9 609.0 388.5 608.0 388.5 608.0 387.7 607.0 387.7 607.0 387.5 606.0 387.5 606.0 387.5 605.0 387.5 605.0 387.0 604.0 387.0 604.0 387.1 603.0 387.1 603.0 386.8 602.0 386.8 602.0 386.8 601.0 386.8 601.0 386.5 600.0 386.5 600.0 386.4 599.0 386.4 599.0 386.0 598.0 386.0 598.0 385.6 597.0 385.6 597.0 385.3 596.0 385.3 596.0 385.2 595.0 385.2 595.0 385.1 594.0 385.1 594.0 384.4 593.0 384.4 593.0 384.1 592.0 384.1 592.0 384.1 591.0 384.1 591.0 383.6 590.0 383.6 590.0 383.6 589.0 383.6 589.0 382.9 588.0 382.9 588.0 383.1 587.0 383.1 587.0 382.5 586.0 382.5 586.0 382.4 585.0 382.4 585.0 382.1 584.0 382.1 584.0 381.8 583.0 381.8 583.0 381.4 582.0 381.4 582.0 381.4 581.0 381.4 581.0 381.2 580.0 381.2 580.0 380.4 579.0 380.4 579.0 380.3 578.0 380.3 578.0 379.8 577.0 379.8 577.0 379.4 576.0 379.4 576.0 379.2 575.0 379.2 575.0 378.3 574.0 378.3 574.0 378.2 573.0 378.2 573.0 377.6 572.0 377.6 572.0 378.2 571.0 378.2 571.0 376.3 570.0 376.3 570.0 375.8 569.0 375.8 569.0 375.0 568.0 375.0 568.0 374.5 567.0 374.5 567.0 374.0 566.0 374.0 566.0 373.1 565.0 373.1 565.0 372.2 564.0 372.2 564.0 371.5 563.0 371.5 563.0 370.4 562.0 370.4 562.0 369.4 561.0 369.4 561.0 368.9 560.0 368.9 560.0 368.3 559.0 368.3 559.0 368.8 558.0 368.8 558.0 366.4 557.0 366.4 557.0 365.7 556.0 365.7 556.0 365.6 555.0 365.6 555.0 365.3 554.0 365.3 554.0 363.7 553.0 363.7 553.0 360.6 552.0 360.6 552.0 359.8 551.0 359.8 551.0 359.5 550.0 359.5 550.0 359.7 549.0 359.7 549.0 359.8 548.0 359.8 548.0 359.7 547.0 359.7 547.0 359.9 546.0 359.9 546.0 360.2 545.0 360.2 545.0 360.0 544.0 360.0 544.0 359.6 543.0 359.6 543.0 359.8 542.0 359.8 542.0 359.8 541.0 359.8 541.0 359.8 540.0 359.8 540.0 360.3 539.0 360.3 539.0 360.9 538.0 360.9 538.0 360.8 537.0 360.8 537.0 360.1 536.0 360.1 536.0 359.5 535.0 359.5 535.0 359.2 534.0 359.2 534.0 359.0 533.0 359.0 533.0 359.5 532.0 359.5 532.0 361.0 531.0 361.0 531.0 361.1 530.0 361.1 530.0 361.3 529.0 361.3ZM683.6 288.3 684.6 288.3 684.6 288.1 685.6 288.1 685.6 287.9 686.6 287.9 686.6 288.2 687.6 288.2 687.6 288.4 688.6 288.4 688.6 286.7 689.6 286.7 689.6 289.0 690.6 289.0 690.6 290.0 691.6 290.0 691.6 287.3 692.6 287.3 692.6 285.4 693.6 285.4 693.6 283.7 694.6 283.7 694.6 284.4 695.6 284.4 695.6 286.6 696.6 286.6 696.6 286.2 697.6 286.2 697.6 285.4 698.6 285.4 698.6 286.0 699.6 286.0 699.6 286.0 700.6 286.0 700.6 285.4 701.0 285.4 701.0 285.3 701.0 285.3 701.0 303.8 701.0 303.8 701.0 304.5 700.6 304.5 700.6 305.9 699.6 305.9 699.6 306.7 698.6 306.7 698.6 308.1 697.6 308.1 697.6 307.3 696.6 307.3 696.6 309.3 695.6 309.3 695.6 305.3 694.6 305.3 694.6 304.1 693.6 304.1 693.6 311.7 692.6 311.7 692.6 315.1 691.6 315.1 691.6 316.4 690.6 316.4 690.6 319.1 689.6 319.1 689.6 317.5 688.6 317.5 688.6 318.6 687.6 318.6 687.6 319.1 686.6 319.1 686.6 319.7 685.6 319.7 685.6 322.6 684.6 322.6 684.6 320.4 683.6 320.4Z" fill="#0072bd" stroke="#0072bd" stroke-width="0.3"/><path d="M82.9 289.0V303.3M89.5 290.0V300.5M88.0 290.0V298.0M91.0 290.0V297.0M95.4 264.6V273.0M111.8 260.1V271.0M114.3 281.0V288.2M122.1 279.0V289.3M182.0 264.6V267.0M188.7 263.5V267.0M203.3 262.3V267.0M203.9 262.3V374.0M204.9 345.7V368.5M206.2 345.5V362.0M208.0 349.5V364.7M209.5 351.0V362.0M213.3 354.0V363.0M214.8 353.5V368.7M217.0 355.0V379.5M220.4 355.0V394.2M222.6 340.2V373.4M225.4 341.5V368.5M236.7 366.0V396.7M234.9 359.3V366.0M248.4 353.7V372.0M266.2 362.9V393.6M298.0 360.0V392.7M300.9 364.7V386.0M303.3 363.3V386.0M307.6 361.3V388.0M313.3 362.0V404.7M314.2 362.0V390.0M322.0 367.3V405.3M348.4 371.3V395.0M351.0 372.7V404.0M354.3 390.0V396.0M358.3 278.6V401.0M373.6 300.0V312.2M385.9 265.1V280.0M404.8 266.2V275.0M420.7 261.7V270.0M422.5 260.6V270.0M424.5 259.5V270.0M424.0 280.0V284.7M425.5 279.0V283.6M434.3 277.0V282.0M507.9 259.7V267.0M528.6 266.0V371.5M530.6 346.2V355.0M531.5 338.9V366.4M534.0 351.3V356.0M535.4 358.0V362.5M539.9 345.0V376.0M541.8 345.0V377.0M545.8 345.0V396.7M549.7 345.0V363.6M553.6 349.0V380.0M555.3 349.0V368.0M560.0 359.1V366.0M562.6 353.5V396.7M585.0 355.0V385.0M583.8 362.0V380.0M593.6 356.8V395.5M603.7 359.3V383.0M608.3 362.0V387.0M613.9 359.3V400.7M624.3 363.3V386.0M630.0 363.3V403.3M636.0 365.3V390.0M643.3 368.7V392.0M646.6 369.3V396.7M659.7 370.0V396.0M668.3 356.7V396.0M669.4 365.3V396.0M677.9 368.0V412.7M683.1 276.9V400.0M692.2 281.7V290.0" stroke="#0072bd" stroke-width="1.4" fill="none"/>
<text x="71.2" y="407.3" text-anchor="end" class="t">-1</text>
<text x="71.2" y="345.4" text-anchor="end" class="t">0</text>
<text x="71.2" y="283.4" text-anchor="end" class="t">1</text>
<path d="M156.97 479.00V664.90M234.70 479.00V664.90M312.43 479.00V664.90M390.15 479.00V664.90M467.88 479.00V664.90M545.60 479.00V664.90M623.33 479.00V664.90M701.05 479.00V664.90M79.25 648.00H701.65M79.25 563.50H701.65M79.25 479.00H701.65" stroke="#dfdfdf" stroke-width="1.2" fill="none"/>
<path d="M79.25 479.00V665.50M78.65 664.90H701.65" stroke="#262626" stroke-width="1.2" fill="none"/>
<path d="M79.25 664.90v-7M156.97 664.90v-7M234.70 664.90v-7M312.43 664.90v-7M390.15 664.90v-7M467.88 664.90v-7M545.60 664.90v-7M623.33 664.90v-7M701.05 664.90v-7M79.25 648.00h7M79.25 563.50h7M79.25 479.00h7" stroke="#262626" stroke-width="1.2" fill="none"/>
<path d="M79.0 516.9 80.0 516.9 80.0 517.6 81.0 517.6 81.0 518.0 82.0 518.0 82.0 517.0 83.0 517.0 83.0 518.5 84.0 518.5 84.0 517.2 85.0 517.2 85.0 518.6 86.0 518.6 86.0 518.2 87.0 518.2 87.0 516.0 88.0 516.0 88.0 518.1 89.0 518.1 89.0 516.6 90.0 516.6 90.0 516.9 91.0 516.9 91.0 516.4 92.0 516.4 92.0 515.3 93.0 515.3 93.0 515.1 94.0 515.1 94.0 512.7 95.0 512.7 95.0 511.5 96.0 511.5 96.0 511.3 97.0 511.3 97.0 510.8 98.0 510.8 98.0 511.3 99.0 511.3 99.0 511.2 100.0 511.2 100.0 511.7 101.0 511.7 101.0 510.3 102.0 510.3 102.0 512.3 103.0 512.3 103.0 512.1 104.0 512.1 104.0 513.0 105.0 513.0 105.0 513.0 106.0 513.0 106.0 514.1 107.0 514.1 107.0 513.7 108.0 513.7 108.0 514.5 109.0 514.5 109.0 515.0 110.0 515.0 110.0 514.0 111.0 514.0 111.0 513.9 112.0 513.9 112.0 516.3 113.0 516.3 113.0 517.0 114.0 517.0 114.0 517.0 115.0 517.0 115.0 517.8 116.0 517.8 116.0 517.2 117.0 517.2 117.0 516.4 118.0 516.4 118.0 516.2 119.0 516.2 119.0 515.1 120.0 515.1 120.0 515.4 121.0 515.4 121.0 515.5 122.0 515.5 122.0 515.1 123.0 515.1 123.0 515.3 124.0 515.3 124.0 514.9 125.0 514.9 125.0 513.0 126.0 513.0 126.0 513.7 127.0 513.7 127.0 515.2 128.0 515.2 128.0 513.6 129.0 513.6 129.0 514.6 130.0 514.6 130.0 514.7 131.0 514.7 131.0 513.9 132.0 513.9 132.0 514.3 133.0 514.3 133.0 513.8 134.0 513.8 134.0 513.0 135.0 513.0 135.0 512.7 136.0 512.7 136.0 512.6 137.0 512.6 137.0 512.3 138.0 512.3 138.0 512.0 139.0 512.0 139.0 512.1 140.0 512.1 140.0 511.7 141.0 511.7 141.0 511.9 142.0 511.9 142.0 511.3 143.0 511.3 143.0 511.5 144.0 511.5 144.0 512.5 145.0 512.5 145.0 510.4 146.0 510.4 146.0 512.1 147.0 512.1 147.0 511.4 148.0 511.4 148.0 510.9 149.0 510.9 149.0 512.1 150.0 512.1 150.0 512.0 151.0 512.0 151.0 512.2 152.0 512.2 152.0 512.1 153.0 512.1 153.0 511.5 154.0 511.5 154.0 512.3 155.0 512.3 155.0 511.9 156.0 511.9 156.0 512.2 157.0 512.2 157.0 512.0 158.0 512.0 158.0 511.7 159.0 511.7 159.0 512.1 160.0 512.1 160.0 511.5 161.0 511.5 161.0 511.2 162.0 511.2 162.0 511.9 163.0 511.9 163.0 510.8 164.0 510.8 164.0 511.2 165.0 511.2 165.0 511.4 166.0 511.4 166.0 511.0 167.0 511.0 167.0 510.2 168.0 510.2 168.0 511.8 169.0 511.8 169.0 512.2 170.0 512.2 170.0 512.3 171.0 512.3 171.0 512.3 172.0 512.3 172.0 512.2 173.0 512.2 173.0 512.4 174.0 512.4 174.0 512.5 175.0 512.5 175.0 511.9 176.0 511.9 176.0 512.9 177.0 512.9 177.0 512.7 178.0 512.7 178.0 513.9 179.0 513.9 179.0 512.8 180.0 512.8 180.0 511.7 181.0 511.7 181.0 513.9 182.0 513.9 182.0 514.0 183.0 514.0 183.0 513.7 184.0 513.7 184.0 514.7 185.0 514.7 185.0 513.4 186.0 513.4 186.0 514.9 187.0 514.9 187.0 514.3 188.0 514.3 188.0 515.0 189.0 515.0 189.0 514.3 190.0 514.3 190.0 512.7 191.0 512.7 191.0 512.8 192.0 512.8 192.0 514.4 193.0 514.4 193.0 513.3 194.0 513.3 194.0 514.5 195.0 514.5 195.0 513.2 196.0 513.2 196.0 514.3 197.0 514.3 197.0 514.2 198.0 514.2 198.0 513.6 199.0 513.6 199.0 514.1 200.0 514.1 200.0 513.8 201.0 513.8 201.0 514.0 202.0 514.0 202.0 513.1 203.0 513.1 203.0 514.5 203.5 514.5 203.5 514.3 203.5 514.3 203.5 528.7 203.5 528.7 203.5 527.9 203.0 527.9 203.0 528.7 202.0 528.7 202.0 527.9 201.0 527.9 201.0 528.3 200.0 528.3 200.0 528.0 199.0 528.0 199.0 528.3 198.0 528.3 198.0 528.6 197.0 528.6 197.0 527.8 196.0 527.8 196.0 528.7 195.0 528.7 195.0 528.0 194.0 528.0 194.0 527.9 193.0 527.9 193.0 528.8 192.0 528.8 192.0 528.2 191.0 528.2 191.0 528.1 190.0 528.1 190.0 528.2 189.0 528.2 189.0 528.1 188.0 528.1 188.0 528.6 187.0 528.6 187.0 528.3 186.0 528.3 186.0 528.6 185.0 528.6 185.0 528.4 184.0 528.4 184.0 529.2 183.0 529.2 183.0 528.8 182.0 528.8 182.0 528.4 181.0 528.4 181.0 528.4 180.0 528.4 180.0 528.3 179.0 528.3 179.0 527.8 178.0 527.8 178.0 529.8 177.0 529.8 177.0 528.2 176.0 528.2 176.0 529.6 175.0 529.6 175.0 527.4 174.0 527.4 174.0 527.8 173.0 527.8 173.0 529.0 172.0 529.0 172.0 527.8 171.0 527.8 171.0 527.5 170.0 527.5 170.0 526.8 169.0 526.8 169.0 526.8 168.0 526.8 168.0 526.7 167.0 526.7 167.0 526.7 166.0 526.7 166.0 527.2 165.0 527.2 165.0 528.2 164.0 528.2 164.0 526.6 163.0 526.6 163.0 526.9 162.0 526.9 162.0 526.0 161.0 526.0 161.0 527.7 160.0 527.7 160.0 527.0 159.0 527.0 159.0 526.1 158.0 526.1 158.0 527.8 157.0 527.8 157.0 527.8 156.0 527.8 156.0 526.4 155.0 526.4 155.0 525.7 154.0 525.7 154.0 525.8 153.0 525.8 153.0 525.3 152.0 525.3 152.0 525.7 151.0 525.7 151.0 527.0 150.0 527.0 150.0 525.0 149.0 525.0 149.0 525.1 148.0 525.1 148.0 525.3 147.0 525.3 147.0 527.0 146.0 527.0 146.0 526.8 145.0 526.8 145.0 525.3 144.0 525.3 144.0 525.8 143.0 525.8 143.0 525.7 142.0 525.7 142.0 525.8 141.0 525.8 141.0 526.0 140.0 526.0 140.0 525.7 139.0 525.7 139.0 527.7 138.0 527.7 138.0 528.3 137.0 528.3 137.0 526.8 136.0 526.8 136.0 527.1 135.0 527.1 135.0 527.6 134.0 527.6 134.0 527.6 133.0 527.6 133.0 527.7 132.0 527.7 132.0 528.2 131.0 528.2 131.0 527.9 130.0 527.9 130.0 528.0 129.0 528.0 129.0 529.8 128.0 529.8 128.0 528.3 127.0 528.3 127.0 529.7 126.0 529.7 126.0 529.0 125.0 529.0 125.0 529.3 124.0 529.3 124.0 530.2 123.0 530.2 123.0 531.3 122.0 531.3 122.0 530.0 121.0 530.0 121.0 532.0 120.0 532.0 120.0 531.0 119.0 531.0 119.0 529.9 118.0 529.9 118.0 530.1 117.0 530.1 117.0 530.1 116.0 530.1 116.0 532.4 115.0 532.4 115.0 530.3 114.0 530.3 114.0 530.3 113.0 530.3 113.0 529.9 112.0 529.9 112.0 529.7 111.0 529.7 111.0 528.6 110.0 528.6 110.0 528.6 109.0 528.6 109.0 528.7 108.0 528.7 108.0 526.8 107.0 526.8 107.0 527.0 106.0 527.0 106.0 525.8 105.0 525.8 105.0 525.9 104.0 525.9 104.0 525.7 103.0 525.7 103.0 525.6 102.0 525.6 102.0 525.7 101.0 525.7 101.0 525.9 100.0 525.9 100.0 525.1 99.0 525.1 99.0 527.4 98.0 527.4 98.0 525.4 97.0 525.4 97.0 526.9 96.0 526.9 96.0 528.3 95.0 528.3 95.0 528.6 94.0 528.6 94.0 530.5 93.0 530.5 93.0 532.3 92.0 532.3 92.0 532.8 91.0 532.8 91.0 534.4 90.0 534.4 90.0 534.7 89.0 534.7 89.0 533.9 88.0 533.9 88.0 534.1 87.0 534.1 87.0 533.9 86.0 533.9 86.0 533.9 85.0 533.9 85.0 533.3 84.0 533.3 84.0 535.1 83.0 535.1 83.0 535.3 82.0 535.3 82.0 533.8 81.0 533.8 81.0 533.5 80.0 533.5 80.0 533.5 79.0 533.5ZM204.6 581.7 205.6 581.7 205.6 581.6 206.6 581.6 206.6 582.8 207.6 582.8 207.6 583.6 208.6 583.6 208.6 583.8 209.6 583.8 209.6 585.1 210.6 585.1 210.6 585.3 211.6 585.3 211.6 585.4 212.6 585.4 212.6 587.3 213.6 587.3 213.6 588.8 214.6 588.8 214.6 588.6 215.6 588.6 215.6 589.5 216.6 589.5 216.6 585.9 217.6 585.9 217.6 576.2 218.6 576.2 218.6 576.8 219.6 576.8 219.6 576.4 220.6 576.4 220.6 576.4 221.6 576.4 221.6 575.4 222.6 575.4 222.6 575.3 223.6 575.3 223.6 577.1 224.6 577.1 224.6 576.8 225.6 576.8 225.6 576.2 226.6 576.2 226.6 592.3 227.6 592.3 227.6 591.4 228.6 591.4 228.6 591.4 229.6 591.4 229.6 593.2 230.6 593.2 230.6 593.8 231.6 593.8 231.6 592.8 232.6 592.8 232.6 595.4 233.6 595.4 233.6 596.5 234.6 596.5 234.6 596.5 235.6 596.5 235.6 599.3 236.6 599.3 236.6 599.4 237.6 599.4 237.6 600.3 238.6 600.3 238.6 602.0 239.6 602.0 239.6 602.6 240.6 602.6 240.6 603.8 241.6 603.8 241.6 603.5 242.6 603.5 242.6 604.5 243.6 604.5 243.6 605.1 244.6 605.1 244.6 605.7 245.6 605.7 245.6 606.2 246.6 606.2 246.6 606.4 247.6 606.4 247.6 607.0 248.6 607.0 248.6 607.8 249.6 607.8 249.6 607.9 250.6 607.9 250.6 608.0 251.6 608.0 251.6 606.2 252.6 606.2 252.6 608.9 253.6 608.9 253.6 609.7 254.6 609.7 254.6 607.3 255.6 607.3 255.6 609.4 256.6 609.4 256.6 611.0 257.6 611.0 257.6 611.1 258.6 611.1 258.6 611.7 259.6 611.7 259.6 612.0 260.6 612.0 260.6 611.3 261.6 611.3 261.6 612.6 262.6 612.6 262.6 613.2 263.6 613.2 263.6 612.6 264.6 612.6 264.6 613.4 265.6 613.4 265.6 614.1 266.6 614.1 266.6 614.2 267.6 614.2 267.6 614.5 268.6 614.5 268.6 614.4 269.6 614.4 269.6 615.1 270.6 615.1 270.6 614.9 271.6 614.9 271.6 615.6 272.6 615.6 272.6 615.7 273.6 615.7 273.6 616.1 274.6 616.1 274.6 615.4 275.6 615.4 275.6 615.1 276.6 615.1 276.6 617.5 277.6 617.5 277.6 617.4 278.6 617.4 278.6 617.4 279.6 617.4 279.6 618.5 280.6 618.5 280.6 618.3 281.6 618.3 281.6 618.3 282.6 618.3 282.6 618.8 283.6 618.8 283.6 619.1 284.6 619.1 284.6 619.7 285.6 619.7 285.6 619.6 286.6 619.6 286.6 619.9 287.6 619.9 287.6 620.5 288.6 620.5 288.6 620.5 289.6 620.5 289.6 620.3 290.6 620.3 290.6 621.3 291.6 621.3 291.6 621.6 292.6 621.6 292.6 622.4 293.6 622.4 293.6 622.0 294.6 622.0 294.6 622.4 295.6 622.4 295.6 622.4 296.6 622.4 296.6 623.0 297.6 623.0 297.6 621.0 298.6 621.0 298.6 622.7 299.6 622.7 299.6 624.0 300.6 624.0 300.6 623.7 301.6 623.7 301.6 624.5 302.6 624.5 302.6 622.5 303.6 622.5 303.6 624.3 304.6 624.3 304.6 623.0 305.6 623.0 305.6 624.8 306.6 624.8 306.6 625.0 307.6 625.0 307.6 624.8 308.6 624.8 308.6 625.9 309.6 625.9 309.6 625.9 310.6 625.9 310.6 626.7 311.6 626.7 311.6 625.0 312.6 625.0 312.6 626.7 313.6 626.7 313.6 627.0 314.6 627.0 314.6 627.3 315.6 627.3 315.6 627.9 316.6 627.9 316.6 628.3 317.6 628.3 317.6 629.0 318.6 629.0 318.6 628.9 319.6 628.9 319.6 628.8 320.6 628.8 320.6 629.5 321.6 629.5 321.6 630.1 322.6 630.1 322.6 630.3 323.6 630.3 323.6 630.3 324.6 630.3 324.6 630.7 325.6 630.7 325.6 631.2 326.6 631.2 326.6 629.4 327.6 629.4 327.6 629.2 328.6 629.2 328.6 631.8 329.6 631.8 329.6 632.0 330.6 632.0 330.6 632.4 331.6 632.4 331.6 632.3 332.6 632.3 332.6 632.2 333.6 632.2 333.6 633.2 334.6 633.2 334.6 632.8 335.6 632.8 335.6 633.0 336.6 633.0 336.6 633.2 337.6 633.2 337.6 633.6 338.6 633.6 338.6 633.3 339.6 633.3 339.6 634.3 340.6 634.3 340.6 634.5 341.6 634.5 341.6 632.8 342.6 632.8 342.6 632.3 343.6 632.3 343.6 634.8 344.6 634.8 344.6 634.8 345.6 634.8 345.6 634.8 346.6 634.8 346.6 635.8 347.6 635.8 347.6 633.9 348.6 633.9 348.6 635.8 349.6 635.8 349.6 635.9 350.6 635.9 350.6 635.7 351.6 635.7 351.6 635.7 352.6 635.7 352.6 635.9 353.6 635.9 353.6 636.1 354.6 636.1 354.6 636.5 355.6 636.5 355.6 637.0 356.6 637.0 356.6 635.7 357.8 635.7 357.8 636.6 357.8 636.6 357.8 649.8 357.8 649.8 357.8 649.7 356.6 649.7 356.6 652.3 355.6 652.3 355.6 650.2 354.6 650.2 354.6 650.0 353.6 650.0 353.6 649.5 352.6 649.5 352.6 649.0 351.6 649.0 351.6 649.7 350.6 649.7 350.6 648.9 349.6 648.9 349.6 650.5 348.6 650.5 348.6 649.1 347.6 649.1 347.6 648.9 346.6 648.9 346.6 649.8 345.6 649.8 345.6 647.9 344.6 647.9 344.6 648.2 343.6 648.2 343.6 648.0 342.6 648.0 342.6 648.1 341.6 648.1 341.6 647.7 340.6 647.7 340.6 647.7 339.6 647.7 339.6 646.7 338.6 646.7 338.6 646.6 337.6 646.6 337.6 646.3 336.6 646.3 336.6 646.3 335.6 646.3 335.6 645.9 334.6 645.9 334.6 645.9 333.6 645.9 333.6 646.9 332.6 646.9 332.6 646.2 331.6 646.2 331.6 645.4 330.6 645.4 330.6 646.1 329.6 646.1 329.6 645.0 328.6 645.0 328.6 647.0 327.6 647.0 327.6 644.7 326.6 644.7 326.6 644.4 325.6 644.4 325.6 643.7 324.6 643.7 324.6 643.4 323.6 643.4 323.6 645.3 322.6 645.3 322.6 644.3 321.6 644.3 321.6 643.2 320.6 643.2 320.6 642.1 319.6 642.1 319.6 642.4 318.6 642.4 318.6 641.5 317.6 641.5 317.6 642.3 316.6 642.3 316.6 641.6 315.6 641.6 315.6 641.2 314.6 641.2 314.6 640.5 313.6 640.5 313.6 640.6 312.6 640.6 312.6 640.2 311.6 640.2 311.6 641.2 310.6 641.2 310.6 639.5 309.6 639.5 309.6 640.0 308.6 640.0 308.6 639.2 307.6 639.2 307.6 639.5 306.6 639.5 306.6 640.5 305.6 640.5 305.6 638.6 304.6 638.6 304.6 637.8 303.6 637.8 303.6 639.7 302.6 639.7 302.6 639.6 301.6 639.6 301.6 638.7 300.6 638.7 300.6 636.7 299.6 636.7 299.6 637.0 298.6 637.0 298.6 636.7 297.6 636.7 297.6 636.7 296.6 636.7 296.6 636.3 295.6 636.3 295.6 635.5 294.6 635.5 294.6 635.6 293.6 635.6 293.6 635.4 292.6 635.4 292.6 634.7 291.6 634.7 291.6 634.4 290.6 634.4 290.6 634.8 289.6 634.8 289.6 634.4 288.6 634.4 288.6 635.9 287.6 635.9 287.6 633.9 286.6 633.9 286.6 633.6 285.6 633.6 285.6 633.6 284.6 633.6 284.6 632.5 283.6 632.5 283.6 634.3 282.6 634.3 282.6 632.7 281.6 632.7 281.6 632.5 280.6 632.5 280.6 632.7 279.6 632.7 279.6 631.4 278.6 631.4 278.6 631.5 277.6 631.5 277.6 631.6 276.6 631.6 276.6 631.1 275.6 631.1 275.6 631.0 274.6 631.0 274.6 632.5 273.6 632.5 273.6 630.7 272.6 630.7 272.6 630.0 271.6 630.0 271.6 629.2 270.6 629.2 270.6 629.6 269.6 629.6 269.6 629.3 268.6 629.3 268.6 628.9 267.6 628.9 267.6 628.3 266.6 628.3 266.6 628.3 265.6 628.3 265.6 629.2 264.6 629.2 264.6 627.7 263.6 627.7 263.6 629.0 262.6 629.0 262.6 627.1 261.6 627.1 261.6 629.4 260.6 629.4 260.6 627.2 259.6 627.2 259.6 626.5 258.6 626.5 258.6 626.6 257.6 626.6 257.6 626.0 256.6 626.0 256.6 624.6 255.6 624.6 255.6 626.3 254.6 626.3 254.6 623.6 253.6 623.6 253.6 622.8 252.6 622.8 252.6 622.1 251.6 622.1 251.6 620.6 250.6 620.6 250.6 620.6 249.6 620.6 249.6 619.7 248.6 619.7 248.6 618.6 247.6 618.6 247.6 620.0 246.6 620.0 246.6 616.9 245.6 616.9 245.6 616.9 244.6 616.9 244.6 616.2 243.6 616.2 243.6 617.7 242.6 617.7 242.6 614.9 241.6 614.9 241.6 615.2 240.6 615.2 240.6 613.9 239.6 613.9 239.6 613.5 238.6 613.5 238.6 613.0 237.6 613.0 237.6 613.8 236.6 613.8 236.6 611.8 235.6 611.8 235.6 609.8 234.6 609.8 234.6 609.1 233.6 609.1 233.6 609.3 232.6 609.3 232.6 607.5 231.6 607.5 231.6 606.0 230.6 606.0 230.6 605.4 229.6 605.4 229.6 604.7 228.6 604.7 228.6 603.7 227.6 603.7 227.6 602.9 226.6 602.9 226.6 590.9 225.6 590.9 225.6 590.1 224.6 590.1 224.6 590.1 223.6 590.1 223.6 592.3 222.6 592.3 222.6 591.4 221.6 591.4 221.6 590.8 220.6 590.8 220.6 589.9 219.6 589.9 219.6 590.0 218.6 590.0 218.6 590.1 217.6 590.1 217.6 602.6 216.6 602.6 216.6 604.8 215.6 604.8 215.6 603.6 214.6 603.6 214.6 604.2 213.6 604.2 213.6 600.3 212.6 600.3 212.6 600.9 211.6 600.9 211.6 598.0 210.6 598.0 210.6 599.0 209.6 599.0 209.6 595.1 208.6 595.1 208.6 594.4 207.6 594.4 207.6 593.4 206.6 593.4 206.6 594.4 205.6 594.4 205.6 592.1 204.6 592.1ZM359.3 543.3 360.3 543.3 360.3 540.6 361.3 540.6 361.3 538.6 362.3 538.6 362.3 535.8 363.3 535.8 363.3 534.8 364.3 534.8 364.3 531.6 365.3 531.6 365.3 532.5 366.3 532.5 366.3 532.3 367.3 532.3 367.3 531.1 368.3 531.1 368.3 530.8 369.3 530.8 369.3 532.1 370.3 532.1 370.3 537.9 371.3 537.9 371.3 541.5 372.3 541.5 372.3 544.6 373.3 544.6 373.3 546.1 374.3 546.1 374.3 536.9 375.3 536.9 375.3 534.1 376.3 534.1 376.3 531.5 377.3 531.5 377.3 530.1 378.3 530.1 378.3 528.8 379.3 528.8 379.3 527.0 380.3 527.0 380.3 524.1 381.3 524.1 381.3 523.5 382.3 523.5 382.3 521.9 383.3 521.9 383.3 520.7 384.3 520.7 384.3 519.0 385.3 519.0 385.3 519.0 386.3 519.0 386.3 517.7 387.3 517.7 387.3 517.6 388.3 517.6 388.3 518.5 389.3 518.5 389.3 517.2 390.3 517.2 390.3 518.7 391.3 518.7 391.3 518.7 392.3 518.7 392.3 518.1 393.3 518.1 393.3 517.0 394.3 517.0 394.3 517.6 395.3 517.6 395.3 517.6 396.3 517.6 396.3 517.8 397.3 517.8 397.3 517.0 398.3 517.0 398.3 515.8 399.3 515.8 399.3 515.2 400.3 515.2 400.3 514.8 401.3 514.8 401.3 513.9 402.3 513.9 402.3 512.4 403.3 512.4 403.3 511.4 404.3 511.4 404.3 511.8 405.3 511.8 405.3 512.2 406.3 512.2 406.3 510.5 407.3 510.5 407.3 511.9 408.3 511.9 408.3 511.3 409.3 511.3 409.3 511.0 410.3 511.0 410.3 511.5 411.3 511.5 411.3 511.9 412.3 511.9 412.3 510.9 413.3 510.9 413.3 513.3 414.3 513.3 414.3 513.6 415.3 513.6 415.3 513.5 416.3 513.5 416.3 513.4 417.3 513.4 417.3 514.3 418.3 514.3 418.3 514.6 419.3 514.6 419.3 514.4 420.3 514.4 420.3 514.7 421.3 514.7 421.3 515.3 422.3 515.3 422.3 516.0 423.3 516.0 423.3 514.7 424.3 514.7 424.3 515.1 425.3 515.1 425.3 516.7 426.3 516.7 426.3 517.0 427.3 517.0 427.3 517.0 428.3 517.0 428.3 516.3 429.3 516.3 429.3 517.1 430.3 517.1 430.3 516.2 431.3 516.2 431.3 514.9 432.3 514.9 432.3 513.9 433.3 513.9 433.3 515.3 434.3 515.3 434.3 514.5 435.3 514.5 435.3 514.6 436.3 514.6 436.3 513.5 437.3 513.5 437.3 513.8 438.3 513.8 438.3 512.3 439.3 512.3 439.3 513.5 440.3 513.5 440.3 513.4 441.3 513.4 441.3 513.3 442.3 513.3 442.3 512.5 443.3 512.5 443.3 511.4 444.3 511.4 444.3 513.1 445.3 513.1 445.3 512.2 446.3 512.2 446.3 513.5 447.3 513.5 447.3 512.0 448.3 512.0 448.3 512.9 449.3 512.9 449.3 511.6 450.3 511.6 450.3 512.6 451.3 512.6 451.3 512.4 452.3 512.4 452.3 512.7 453.3 512.7 453.3 512.8 454.3 512.8 454.3 510.8 455.3 510.8 455.3 512.7 456.3 512.7 456.3 512.8 457.3 512.8 457.3 511.9 458.3 511.9 458.3 511.5 459.3 511.5 459.3 513.0 460.3 513.0 460.3 512.7 461.3 512.7 461.3 511.8 462.3 511.8 462.3 513.3 463.3 513.3 463.3 510.8 464.3 510.8 464.3 513.0 465.3 513.0 465.3 513.1 466.3 513.1 466.3 512.7 467.3 512.7 467.3 513.1 468.3 513.1 468.3 513.0 469.3 513.0 469.3 513.7 470.3 513.7 470.3 513.0 471.3 513.0 471.3 513.8 472.3 513.8 472.3 512.7 473.3 512.7 473.3 511.2 474.3 511.2 474.3 513.7 475.3 513.7 475.3 512.9 476.3 512.9 476.3 512.1 477.3 512.1 477.3 512.9 478.3 512.9 478.3 513.3 479.3 513.3 479.3 513.4 480.3 513.4 480.3 512.9 481.3 512.9 481.3 513.3 482.3 513.3 482.3 513.1 483.3 513.1 483.3 513.1 484.3 513.1 484.3 513.7 485.3 513.7 485.3 513.4 486.3 513.4 486.3 512.9 487.3 512.9 487.3 513.4 488.3 513.4 488.3 513.1 489.3 513.1 489.3 513.4 490.3 513.4 490.3 513.2 491.3 513.2 491.3 513.8 492.3 513.8 492.3 513.7 493.3 513.7 493.3 513.4 494.3 513.4 494.3 513.4 495.3 513.4 495.3 513.5 496.3 513.5 496.3 513.5 497.3 513.5 497.3 514.0 498.3 514.0 498.3 513.6 499.3 513.6 499.3 513.5 500.3 513.5 500.3 514.1 501.3 514.1 501.3 513.1 502.3 513.1 502.3 514.1 503.3 514.1 503.3 514.1 504.3 514.1 504.3 513.7 505.3 513.7 505.3 513.3 506.3 513.3 506.3 512.2 507.3 512.2 507.3 513.8 508.3 513.8 508.3 513.3 509.3 513.3 509.3 513.9 510.3 513.9 510.3 513.6 511.3 513.6 511.3 513.0 512.3 513.0 512.3 512.4 513.3 512.4 513.3 512.6 514.3 512.6 514.3 513.1 515.3 513.1 515.3 514.1 516.3 514.1 516.3 514.3 517.3 514.3 517.3 513.3 518.3 513.3 518.3 513.7 519.3 513.7 519.3 514.0 520.3 514.0 520.3 514.6 521.3 514.6 521.3 514.4 522.3 514.4 522.3 514.1 523.3 514.1 523.3 514.6 524.3 514.6 524.3 514.7 525.3 514.7 525.3 513.2 526.3 513.2 526.3 514.9 527.3 514.9 527.3 514.9 527.9 514.9 527.9 514.8 527.9 514.8 527.9 529.5 527.9 529.5 527.9 529.6 527.3 529.6 527.3 530.7 526.3 530.7 526.3 530.5 525.3 530.5 525.3 531.6 524.3 531.6 524.3 528.6 523.3 528.6 523.3 528.9 522.3 528.9 522.3 529.9 521.3 529.9 521.3 529.0 520.3 529.0 520.3 528.9 519.3 528.9 519.3 530.3 518.3 530.3 518.3 528.7 517.3 528.7 517.3 529.0 516.3 529.0 516.3 528.0 515.3 528.0 515.3 530.7 514.3 530.7 514.3 528.1 513.3 528.1 513.3 528.4 512.3 528.4 512.3 528.7 511.3 528.7 511.3 528.8 510.3 528.8 510.3 528.8 509.3 528.8 509.3 528.1 508.3 528.1 508.3 528.2 507.3 528.2 507.3 528.9 506.3 528.9 506.3 528.4 505.3 528.4 505.3 528.9 504.3 528.9 504.3 528.4 503.3 528.4 503.3 530.2 502.3 530.2 502.3 528.3 501.3 528.3 501.3 527.9 500.3 527.9 500.3 530.0 499.3 530.0 499.3 528.3 498.3 528.3 498.3 528.3 497.3 528.3 497.3 530.4 496.3 530.4 496.3 527.7 495.3 527.7 495.3 527.7 494.3 527.7 494.3 528.2 493.3 528.2 493.3 527.6 492.3 527.6 492.3 528.3 491.3 528.3 491.3 527.7 490.3 527.7 490.3 527.7 489.3 527.7 489.3 527.6 488.3 527.6 488.3 527.8 487.3 527.8 487.3 528.0 486.3 528.0 486.3 527.8 485.3 527.8 485.3 528.7 484.3 528.7 484.3 529.4 483.3 529.4 483.3 527.0 482.3 527.0 482.3 528.5 481.3 528.5 481.3 527.0 480.3 527.0 480.3 526.7 479.3 526.7 479.3 527.5 478.3 527.5 478.3 527.0 477.3 527.0 477.3 526.8 476.3 526.8 476.3 527.4 475.3 527.4 475.3 527.6 474.3 527.6 474.3 526.8 473.3 526.8 473.3 526.6 472.3 526.6 472.3 527.3 471.3 527.3 471.3 527.5 470.3 527.5 470.3 527.1 469.3 527.1 469.3 526.3 468.3 526.3 468.3 527.0 467.3 527.0 467.3 526.5 466.3 526.5 466.3 527.5 465.3 527.5 465.3 526.3 464.3 526.3 464.3 526.8 463.3 526.8 463.3 527.2 462.3 527.2 462.3 527.0 461.3 527.0 461.3 525.9 460.3 525.9 460.3 527.9 459.3 527.9 459.3 527.3 458.3 527.3 458.3 525.7 457.3 525.7 457.3 526.2 456.3 526.2 456.3 526.5 455.3 526.5 455.3 526.2 454.3 526.2 454.3 525.7 453.3 525.7 453.3 526.3 452.3 526.3 452.3 526.7 451.3 526.7 451.3 526.4 450.3 526.4 450.3 526.7 449.3 526.7 449.3 526.5 448.3 526.5 448.3 527.1 447.3 527.1 447.3 527.5 446.3 527.5 446.3 526.2 445.3 526.2 445.3 526.4 444.3 526.4 444.3 526.4 443.3 526.4 443.3 526.4 442.3 526.4 442.3 526.5 441.3 526.5 441.3 526.5 440.3 526.5 440.3 526.8 439.3 526.8 439.3 527.3 438.3 527.3 438.3 528.3 437.3 528.3 437.3 528.7 436.3 528.7 436.3 529.1 435.3 529.1 435.3 529.3 434.3 529.3 434.3 529.3 433.3 529.3 433.3 530.3 432.3 530.3 432.3 529.7 431.3 529.7 431.3 530.1 430.3 530.1 430.3 531.8 429.3 531.8 429.3 531.1 428.3 531.1 428.3 530.6 427.3 530.6 427.3 531.1 426.3 531.1 426.3 531.5 425.3 531.5 425.3 531.3 424.3 531.3 424.3 530.8 423.3 530.8 423.3 530.7 422.3 530.7 422.3 530.8 421.3 530.8 421.3 529.9 420.3 529.9 420.3 529.7 419.3 529.7 419.3 529.5 418.3 529.5 418.3 529.3 417.3 529.3 417.3 529.9 416.3 529.9 416.3 529.0 415.3 529.0 415.3 528.6 414.3 528.6 414.3 528.3 413.3 528.3 413.3 527.6 412.3 527.6 412.3 526.7 411.3 526.7 411.3 525.5 410.3 525.5 410.3 525.4 409.3 525.4 409.3 525.2 408.3 525.2 408.3 528.3 407.3 528.3 407.3 525.4 406.3 525.4 406.3 525.5 405.3 525.5 405.3 525.8 404.3 525.8 404.3 528.7 403.3 528.7 403.3 527.3 402.3 527.3 402.3 529.1 401.3 529.1 401.3 532.6 400.3 532.6 400.3 532.4 399.3 532.4 399.3 532.7 398.3 532.7 398.3 532.2 397.3 532.2 397.3 532.5 396.3 532.5 396.3 532.6 395.3 532.6 395.3 532.5 394.3 532.5 394.3 533.4 393.3 533.4 393.3 533.3 392.3 533.3 392.3 534.8 391.3 534.8 391.3 533.0 390.3 533.0 390.3 533.1 389.3 533.1 389.3 532.6 388.3 532.6 388.3 532.6 387.3 532.6 387.3 532.9 386.3 532.9 386.3 534.2 385.3 534.2 385.3 537.1 384.3 537.1 384.3 537.1 383.3 537.1 383.3 538.9 382.3 538.9 382.3 539.6 381.3 539.6 381.3 541.8 380.3 541.8 380.3 545.6 379.3 545.6 379.3 546.7 378.3 546.7 378.3 549.4 377.3 549.4 377.3 551.1 376.3 551.1 376.3 553.3 375.3 553.3 375.3 556.2 374.3 556.2 374.3 559.9 373.3 559.9 373.3 560.1 372.3 560.1 372.3 556.7 371.3 556.7 371.3 553.0 370.3 553.0 370.3 549.9 369.3 549.9 369.3 547.6 368.3 547.6 368.3 549.4 367.3 549.4 367.3 550.4 366.3 550.4 366.3 551.6 365.3 551.6 365.3 551.3 364.3 551.3 364.3 552.9 363.3 552.9 363.3 554.4 362.3 554.4 362.3 556.4 361.3 556.4 361.3 558.4 360.3 558.4 360.3 561.4 359.3 561.4ZM528.9 580.0 529.9 580.0 529.9 581.1 530.9 581.1 530.9 581.9 531.9 581.9 531.9 583.1 532.9 583.1 532.9 583.1 533.9 583.1 533.9 584.2 534.9 584.2 534.9 585.4 535.9 585.4 535.9 585.6 536.9 585.6 536.9 586.9 537.9 586.9 537.9 587.0 538.9 587.0 538.9 587.6 539.9 587.6 539.9 587.8 540.9 587.8 540.9 589.3 541.9 589.3 541.9 589.2 542.9 589.2 542.9 577.2 543.9 577.2 543.9 575.9 544.9 575.9 544.9 577.6 545.9 577.6 545.9 577.7 546.9 577.7 546.9 577.7 547.9 577.7 547.9 576.8 548.9 576.8 548.9 577.7 549.9 577.7 549.9 576.8 550.9 576.8 550.9 578.1 551.9 578.1 551.9 584.7 552.9 584.7 552.9 593.2 553.9 593.2 553.9 593.7 554.9 593.7 554.9 592.9 555.9 592.9 555.9 595.4 556.9 595.4 556.9 596.0 557.9 596.0 557.9 594.7 558.9 594.7 558.9 597.1 559.9 597.1 559.9 598.0 560.9 598.0 560.9 598.8 561.9 598.8 561.9 599.4 562.9 599.4 562.9 600.8 563.9 600.8 563.9 601.5 564.9 601.5 564.9 602.1 565.9 602.1 565.9 603.5 566.9 603.5 566.9 603.1 567.9 603.1 567.9 604.3 568.9 604.3 568.9 604.0 569.9 604.0 569.9 604.2 570.9 604.2 570.9 605.5 571.9 605.5 571.9 606.0 572.9 606.0 572.9 606.6 573.9 606.6 573.9 606.9 574.9 606.9 574.9 608.0 575.9 608.0 575.9 608.5 576.9 608.5 576.9 608.8 577.9 608.8 577.9 609.7 578.9 609.7 578.9 610.5 579.9 610.5 579.9 611.6 580.9 611.6 580.9 611.2 581.9 611.2 581.9 609.8 582.9 609.8 582.9 612.3 583.9 612.3 583.9 610.7 584.9 610.7 584.9 612.1 585.9 612.1 585.9 613.0 586.9 613.0 586.9 613.2 587.9 613.2 587.9 612.7 588.9 612.7 588.9 613.0 589.9 613.0 589.9 613.7 590.9 613.7 590.9 613.7 591.9 613.7 591.9 613.7 592.9 613.7 592.9 613.7 593.9 613.7 593.9 614.1 594.9 614.1 594.9 614.4 595.9 614.4 595.9 614.8 596.9 614.8 596.9 615.0 597.9 615.0 597.9 615.1 598.9 615.1 598.9 615.6 599.9 615.6 599.9 615.6 600.9 615.6 600.9 616.3 601.9 616.3 601.9 616.4 602.9 616.4 602.9 614.9 603.9 614.9 603.9 616.1 604.9 616.1 604.9 616.1 605.9 616.1 605.9 616.6 606.9 616.6 606.9 617.9 607.9 617.9 607.9 618.3 608.9 618.3 608.9 618.0 609.9 618.0 609.9 617.3 610.9 617.3 610.9 619.0 611.9 619.0 611.9 619.1 612.9 619.1 612.9 618.6 613.9 618.6 613.9 620.3 614.9 620.3 614.9 619.8 615.9 619.8 615.9 619.9 616.9 619.9 616.9 620.6 617.9 620.6 617.9 621.4 618.9 621.4 618.9 620.8 619.9 620.8 619.9 621.8 620.9 621.8 620.9 622.3 621.9 622.3 621.9 622.4 622.9 622.4 622.9 622.2 623.9 622.2 623.9 622.4 624.9 622.4 624.9 623.0 625.9 623.0 625.9 621.8 626.9 621.8 626.9 623.5 627.9 623.5 627.9 624.3 628.9 624.3 628.9 624.5 629.9 624.5 629.9 624.9 630.9 624.9 630.9 624.6 631.9 624.6 631.9 625.5 632.9 625.5 632.9 625.3 633.9 625.3 633.9 626.2 634.9 626.2 634.9 626.1 635.9 626.1 635.9 625.7 636.9 625.7 636.9 626.9 637.9 626.9 637.9 626.0 638.9 626.0 638.9 626.2 639.9 626.2 639.9 626.8 640.9 626.8 640.9 627.3 641.9 627.3 641.9 628.2 642.9 628.2 642.9 627.8 643.9 627.8 643.9 628.5 644.9 628.5 644.9 628.5 645.9 628.5 645.9 628.8 646.9 628.8 646.9 628.7 647.9 628.7 647.9 628.8 648.9 628.8 648.9 629.1 649.9 629.1 649.9 629.8 650.9 629.8 650.9 630.5 651.9 630.5 651.9 630.2 652.9 630.2 652.9 630.7 653.9 630.7 653.9 629.5 654.9 629.5 654.9 630.3 655.9 630.3 655.9 631.1 656.9 631.1 656.9 631.4 657.9 631.4 657.9 632.2 658.9 632.2 658.9 632.4 659.9 632.4 659.9 631.8 660.9 631.8 660.9 632.1 661.9 632.1 661.9 630.6 662.9 630.6 662.9 632.5 663.9 632.5 663.9 632.7 664.9 632.7 664.9 633.2 665.9 633.2 665.9 633.9 666.9 633.9 666.9 631.8 667.9 631.8 667.9 632.5 668.9 632.5 668.9 634.4 669.9 634.4 669.9 634.6 670.9 634.6 670.9 634.8 671.9 634.8 671.9 635.0 672.9 635.0 672.9 635.3 673.9 635.3 673.9 634.8 674.9 634.8 674.9 635.5 675.9 635.5 675.9 635.5 676.9 635.5 676.9 636.3 677.9 636.3 677.9 635.8 678.9 635.8 678.9 636.1 679.9 636.1 679.9 636.0 680.9 636.0 680.9 636.4 681.9 636.4 681.9 636.7 682.8 636.7 682.8 636.4 682.8 636.4 682.8 650.8 682.8 650.8 682.8 651.2 681.9 651.2 681.9 652.5 680.9 652.5 680.9 650.8 679.9 650.8 679.9 650.5 678.9 650.5 678.9 650.6 677.9 650.6 677.9 650.2 676.9 650.2 676.9 651.0 675.9 651.0 675.9 649.9 674.9 649.9 674.9 649.9 673.9 649.9 673.9 649.0 672.9 649.0 672.9 649.1 671.9 649.1 671.9 649.7 670.9 649.7 670.9 649.4 669.9 649.4 669.9 648.6 668.9 648.6 668.9 648.4 667.9 648.4 667.9 648.3 666.9 648.3 666.9 648.4 665.9 648.4 665.9 647.7 664.9 647.7 664.9 647.2 663.9 647.2 663.9 647.0 662.9 647.0 662.9 647.4 661.9 647.4 661.9 646.6 660.9 646.6 660.9 647.4 659.9 647.4 659.9 645.8 658.9 645.8 658.9 646.4 657.9 646.4 657.9 647.9 656.9 647.9 656.9 645.6 655.9 645.6 655.9 646.4 654.9 646.4 654.9 644.7 653.9 644.7 653.9 645.1 652.9 645.1 652.9 644.7 651.9 644.7 651.9 644.5 650.9 644.5 650.9 643.5 649.9 643.5 649.9 643.5 648.9 643.5 648.9 645.9 647.9 645.9 647.9 643.0 646.9 643.0 646.9 643.3 645.9 643.3 645.9 642.9 644.9 642.9 644.9 642.5 643.9 642.5 643.9 644.4 642.9 644.4 642.9 641.8 641.9 641.8 641.9 640.8 640.9 640.8 640.9 640.7 639.9 640.7 639.9 640.7 638.9 640.7 638.9 640.2 637.9 640.2 637.9 639.8 636.9 639.8 636.9 639.7 635.9 639.7 635.9 639.2 634.9 639.2 634.9 638.8 633.9 638.8 633.9 638.5 632.9 638.5 632.9 640.0 631.9 640.0 631.9 637.9 630.9 637.9 630.9 638.1 629.9 638.1 629.9 638.0 628.9 638.0 628.9 639.6 627.9 639.6 627.9 636.6 626.9 636.6 626.9 637.1 625.9 637.1 625.9 636.4 624.9 636.4 624.9 635.9 623.9 635.9 623.9 635.7 622.9 635.7 622.9 635.7 621.9 635.7 621.9 635.6 620.9 635.6 620.9 635.0 619.9 635.0 619.9 635.0 618.9 635.0 618.9 634.6 617.9 634.6 617.9 633.7 616.9 633.7 616.9 635.0 615.9 635.0 615.9 635.4 614.9 635.4 614.9 635.3 613.9 635.3 613.9 632.4 612.9 632.4 612.9 632.5 611.9 632.5 611.9 633.2 610.9 633.2 610.9 631.9 609.9 631.9 609.9 631.9 608.9 631.9 608.9 631.2 607.9 631.2 607.9 631.4 606.9 631.4 606.9 631.8 605.9 631.8 605.9 631.5 604.9 631.5 604.9 630.5 603.9 630.5 603.9 629.3 602.9 629.3 602.9 629.6 601.9 629.6 601.9 630.3 600.9 630.3 600.9 628.7 599.9 628.7 599.9 629.3 598.9 629.3 598.9 629.5 597.9 629.5 597.9 628.3 596.9 628.3 596.9 628.1 595.9 628.1 595.9 627.4 594.9 627.4 594.9 627.0 593.9 627.0 593.9 627.2 592.9 627.2 592.9 628.9 591.9 628.9 591.9 626.5 590.9 626.5 590.9 625.9 589.9 625.9 589.9 625.3 588.9 625.3 588.9 624.9 587.9 624.9 587.9 624.7 586.9 624.7 586.9 624.9 585.9 624.9 585.9 624.2 584.9 624.2 584.9 625.7 583.9 625.7 583.9 624.2 582.9 624.2 582.9 623.5 581.9 623.5 581.9 623.0 580.9 623.0 580.9 623.4 579.9 623.4 579.9 622.0 578.9 622.0 578.9 621.2 577.9 621.2 577.9 619.5 576.9 619.5 576.9 618.9 575.9 618.9 575.9 618.9 574.9 618.9 574.9 617.9 573.9 617.9 573.9 617.8 572.9 617.8 572.9 617.0 571.9 617.0 571.9 616.4 570.9 616.4 570.9 617.4 569.9 617.4 569.9 615.5 568.9 615.5 568.9 614.9 567.9 614.9 567.9 614.9 566.9 614.9 566.9 613.6 565.9 613.6 565.9 613.3 564.9 613.3 564.9 613.5 563.9 613.5 563.9 612.7 562.9 612.7 562.9 611.8 561.9 611.8 561.9 611.0 560.9 611.0 560.9 610.7 559.9 610.7 559.9 611.4 558.9 611.4 558.9 609.0 557.9 609.0 557.9 608.0 556.9 608.0 556.9 607.0 555.9 607.0 555.9 605.7 554.9 605.7 554.9 604.4 553.9 604.4 553.9 605.4 552.9 605.4 552.9 596.7 551.9 596.7 551.9 590.0 550.9 590.0 550.9 589.8 549.9 589.8 549.9 592.3 548.9 592.3 548.9 590.3 547.9 590.3 547.9 591.0 546.9 591.0 546.9 589.5 545.9 589.5 545.9 590.3 544.9 590.3 544.9 589.9 543.9 589.9 543.9 589.7 542.9 589.7 542.9 605.6 541.9 605.6 541.9 604.7 540.9 604.7 540.9 605.3 539.9 605.3 539.9 603.7 538.9 603.7 538.9 600.8 537.9 600.8 537.9 601.3 536.9 601.3 536.9 599.1 535.9 599.1 535.9 598.4 534.9 598.4 534.9 599.1 533.9 599.1 533.9 596.0 532.9 596.0 532.9 596.0 531.9 596.0 531.9 594.2 530.9 594.2 530.9 593.6 529.9 593.6 529.9 592.8 528.9 592.8ZM683.8 539.0 684.8 539.0 684.8 536.7 685.8 536.7 685.8 535.5 686.8 535.5 686.8 533.2 687.8 533.2 687.8 530.0 688.8 530.0 688.8 530.8 689.8 530.8 689.8 529.0 690.8 529.0 690.8 531.1 691.8 531.1 691.8 531.0 692.8 531.0 692.8 530.0 693.8 530.0 693.8 527.9 694.8 527.9 694.8 526.3 695.8 526.3 695.8 530.1 696.8 530.1 696.8 537.1 697.8 537.1 697.8 543.6 698.8 543.6 698.8 538.1 699.8 538.1 699.8 532.9 700.8 532.9 700.8 532.5 701.3 532.5 701.3 533.6 701.3 533.6 701.3 548.1 701.3 548.1 701.3 548.2 700.8 548.2 700.8 549.8 699.8 549.8 699.8 557.5 698.8 557.5 698.8 563.9 697.8 563.9 697.8 559.7 696.8 559.7 696.8 556.3 695.8 556.3 695.8 554.3 694.8 554.3 694.8 551.7 693.8 551.7 693.8 551.9 692.8 551.9 692.8 551.0 691.8 551.0 691.8 549.0 690.8 549.0 690.8 547.9 689.8 547.9 689.8 548.4 688.8 548.4 688.8 550.3 687.8 550.3 687.8 550.8 686.8 550.8 686.8 555.5 685.8 555.5 685.8 555.2 684.8 555.2 684.8 560.0 683.8 560.0Z" fill="#0072bd" stroke="#0072bd" stroke-width="0.3"/><path d="M367.2 530.0L367.9 506.8L369.1 506.8L369.8 530.0ZM384.4 520.0L385.1 504.5L386.3 504.5L386.9 520.0ZM691.9 528.0L692.5 504.8L693.7 504.8L694.4 528.0Z" fill="#0072bd"/><path d="M89.6 528.0V536.0M203.9 514.0V582.0M218.0 590.0V606.0M221.0 590.0V607.1M236.5 608.0V618.4M358.4 545.0V649.6M368.5 506.8V532.0M367.5 545.0V571.0M385.7 504.5V522.0M384.2 535.0V575.1M528.5 514.0V580.0M543.0 590.0V606.0M545.8 590.0V604.3M562.1 608.0V617.8M683.5 538.0V650.5M693.1 504.8V530.0M691.8 545.0V571.3" stroke="#0072bd" stroke-width="1.4" fill="none"/>
<text x="71.2" y="657.4" text-anchor="end" class="t">1.5</text>
<text x="71.2" y="572.9" text-anchor="end" class="t">2</text>
<text x="71.2" y="488.4" text-anchor="end" class="t">2.5</text>
<text x="79.2" y="696" text-anchor="middle" class="t">0</text>
<text x="157.0" y="696" text-anchor="middle" class="t">5</text>
<text x="234.7" y="696" text-anchor="middle" class="t">10</text>
<text x="312.4" y="696" text-anchor="middle" class="t">15</text>
<text x="390.1" y="696" text-anchor="middle" class="t">20</text>
<text x="467.9" y="696" text-anchor="middle" class="t">25</text>
<text x="545.6" y="696" text-anchor="middle" class="t">30</text>
<text x="623.3" y="696" text-anchor="middle" class="t">35</text>
<text x="701.0" y="696" text-anchor="middle" class="t">40</text>
<text x="390.5" y="727.8" text-anchor="middle" class="l">Time [s]</text>
<text transform="translate(18.7,100.2) rotate(-90)" text-anchor="middle" class="l">I<tspan dy="12" font-size="20">PV</tspan><tspan dy="-12"> [A]</tspan></text>
<text transform="translate(18.7,336.5) rotate(-90)" text-anchor="middle" class="l">I<tspan dy="12" font-size="20">b</tspan><tspan dy="-12"> [A]</tspan></text>
<text transform="translate(18.7,572.5) rotate(-90)" text-anchor="middle" class="l">I<tspan dy="12" font-size="20">o</tspan><tspan dy="-12"> [A]</tspan></text>
</svg>
</body></html>
